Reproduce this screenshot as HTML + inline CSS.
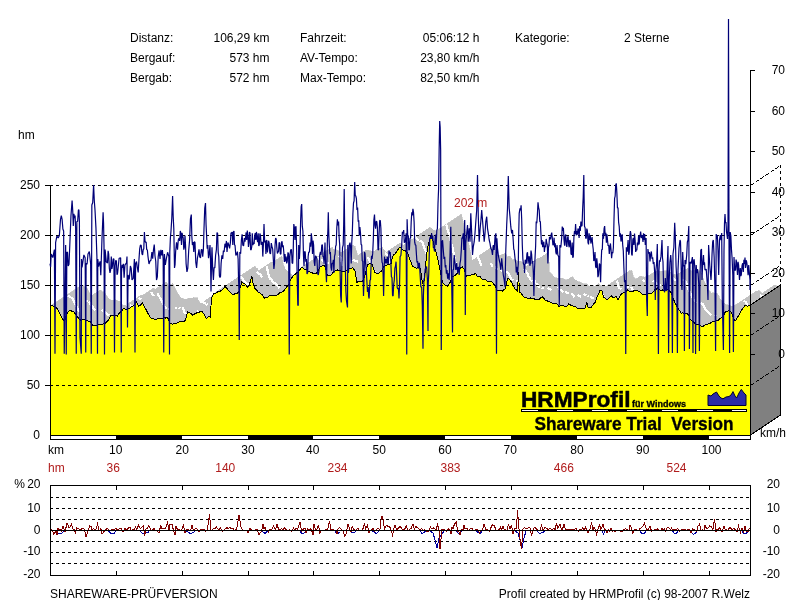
<!DOCTYPE html>
<html><head><meta charset="utf-8"><title>HRMProfil</title>
<style>
html,body{margin:0;padding:0;background:#fff;width:800px;height:600px;overflow:hidden}
svg{position:absolute;left:0;top:0;display:block}
text{font-family:"Liberation Sans", Arial, sans-serif}
.w{stroke:#fff;stroke-width:2.2}
</style></head><body>
<svg width="800" height="600" viewBox="0 0 800 600">

<g shape-rendering="crispEdges">
<g fill="#c0c0c0" stroke="#c0c0c0" stroke-width="0.6"><polygon points="50,306.25 51.25,305.56 81.25,285.56 80,286.25"/><polygon points="51.25,305.56 52.5,305.6 82.5,285.6 81.25,285.56"/><polygon points="52.5,305.6 53.75,306.31 83.75,286.31 82.5,285.6"/><polygon points="53.75,306.31 55,306.9 85,286.9 83.75,286.31"/><polygon points="55,306.9 56.25,307.64 86.25,287.64 85,286.9"/><polygon points="56.25,307.64 57.5,308.75 87.5,288.75 86.25,287.64"/><polygon points="57.5,308.75 58.75,311.4 88.75,291.4 87.5,288.75"/><polygon points="58.75,311.4 60,313.75 90,293.75 88.75,291.4"/><polygon points="60,313.75 61.25,316.43 91.25,296.43 90,293.75"/><polygon points="61.25,316.43 62.5,318.75 92.5,298.75 91.25,296.43"/><polygon points="62.5,318.75 64.4,321.9 94.4,301.9 92.5,298.75"/><polygon points="64.4,321.9 66.25,315 96.25,295 94.4,301.9"/><polygon points="66.25,315 67.5,312.52 97.5,292.52 96.25,295"/><polygon points="67.5,312.52 68.75,311.25 98.75,291.25 97.5,292.52"/><polygon points="68.75,311.25 70,310.24 100,290.24 98.75,291.25"/><polygon points="70,310.24 71.25,310.6 101.25,290.6 100,290.24"/><polygon points="71.25,310.6 72.5,311.72 102.5,291.72 101.25,290.6"/><polygon points="72.5,311.72 73.75,311.9 103.75,291.9 102.5,291.72"/><polygon points="73.75,311.9 75,313.41 105,293.41 103.75,291.9"/><polygon points="75,313.41 76.25,315.6 106.25,295.6 105,293.41"/><polygon points="76.25,315.6 77.5,316.8 107.5,296.8 106.25,295.6"/><polygon points="77.5,316.8 78.75,318.75 108.75,298.75 107.5,296.8"/><polygon points="78.75,318.75 80.62,320.07 110.62,300.07 108.75,298.75"/><polygon points="80.62,320.07 82.5,320 112.5,300 110.62,300.07"/><polygon points="82.5,320 84.38,319.96 114.38,299.96 112.5,300"/><polygon points="84.38,319.96 86.25,320 116.25,300 114.38,299.96"/><polygon points="86.25,320 88.12,321.1 118.12,301.1 116.25,300"/><polygon points="88.12,321.1 90,321.25 120,301.25 118.12,301.1"/><polygon points="90,321.25 91.25,323.09 121.25,303.09 120,301.25"/><polygon points="91.25,323.09 92.5,325 122.5,305 121.25,303.09"/><polygon points="92.5,325 94.38,325.49 124.38,305.49 122.5,305"/><polygon points="94.38,325.49 96.25,325.6 126.25,305.6 124.38,305.49"/><polygon points="96.25,325.6 98.12,324.51 128.12,304.51 126.25,305.6"/><polygon points="98.12,324.51 100,324.4 130,304.4 128.12,304.51"/><polygon points="100,324.4 101.88,324.26 131.88,304.26 130,304.4"/><polygon points="101.88,324.26 103.75,323.75 133.75,303.75 131.88,304.26"/><polygon points="103.75,323.75 105.62,323.02 135.62,303.02 133.75,303.75"/><polygon points="105.62,323.02 107.5,321.25 137.5,301.25 135.62,303.02"/><polygon points="107.5,321.25 109.38,318.16 139.38,298.16 137.5,301.25"/><polygon points="109.38,318.16 111.25,315 141.25,295 139.38,298.16"/><polygon points="111.25,315 113.12,315.34 143.12,295.34 141.25,295"/><polygon points="113.12,315.34 115,315 145,295 143.12,295.34"/><polygon points="115,315 116.25,315.86 146.25,295.86 145,295"/><polygon points="116.25,315.86 117.5,316.25 147.5,296.25 146.25,295.86"/><polygon points="117.5,316.25 118.75,313.76 148.75,293.76 147.5,296.25"/><polygon points="118.75,313.76 120,312.5 150,292.5 148.75,293.76"/><polygon points="120,312.5 121.88,310.66 151.88,290.66 150,292.5"/><polygon points="121.88,310.66 123.75,308.1 153.75,288.1 151.88,290.66"/><polygon points="123.75,308.1 125,308.88 155,288.88 153.75,288.1"/><polygon points="125,308.88 126.25,309.4 156.25,289.4 155,288.88"/><polygon points="126.25,309.4 128.12,308.47 158.12,288.47 156.25,289.4"/><polygon points="128.12,308.47 130,308.1 160,288.1 158.12,288.47"/><polygon points="130,308.1 131.25,306.52 161.25,286.52 160,288.1"/><polygon points="131.25,306.52 132.5,306.25 162.5,286.25 161.25,286.52"/><polygon points="132.5,306.25 134.38,304.59 164.38,284.59 162.5,286.25"/><polygon points="134.38,304.59 136.25,301.9 166.25,281.9 164.38,284.59"/><polygon points="136.25,301.9 137.5,304.04 167.5,284.04 166.25,281.9"/><polygon points="137.5,304.04 138.75,306.25 168.75,286.25 167.5,284.04"/><polygon points="138.75,306.25 140.62,304.98 170.62,284.98 168.75,286.25"/><polygon points="140.62,304.98 142.5,303.1 172.5,283.1 170.62,284.98"/><polygon points="142.5,303.1 144.38,307.08 174.38,287.08 172.5,283.1"/><polygon points="144.38,307.08 146.25,310 176.25,290 174.38,287.08"/><polygon points="146.25,310 148.12,313.8 178.12,293.8 176.25,290"/><polygon points="148.12,313.8 150,317 180,297 178.12,293.8"/><polygon points="150,317 151.67,318.39 181.67,298.39 180,297"/><polygon points="151.67,318.39 153.33,318.45 183.33,298.45 181.67,298.39"/><polygon points="153.33,318.45 155,319.4 185,299.4 183.33,298.45"/><polygon points="155,319.4 156.67,319.39 186.67,299.39 185,299.4"/><polygon points="156.67,319.39 158.33,318.46 188.33,298.46 186.67,299.39"/><polygon points="158.33,318.46 160,318.1 190,298.1 188.33,298.46"/><polygon points="160,318.1 161.88,318.41 191.88,298.41 190,298.1"/><polygon points="161.88,318.41 163.75,317.5 193.75,297.5 191.88,298.41"/><polygon points="163.75,317.5 165.62,318.03 195.62,298.03 193.75,297.5"/><polygon points="165.62,318.03 167.5,317.5 197.5,297.5 195.62,298.03"/><polygon points="167.5,317.5 168.75,320.06 198.75,300.06 197.5,297.5"/><polygon points="168.75,320.06 170,323.75 200,303.75 198.75,300.06"/><polygon points="170,323.75 171.25,323.57 201.25,303.57 200,303.75"/><polygon points="171.25,323.57 172.5,324.4 202.5,304.4 201.25,303.57"/><polygon points="172.5,324.4 174.38,323.35 204.38,303.35 202.5,304.4"/><polygon points="174.38,323.35 176.25,323.1 206.25,303.1 204.38,303.35"/><polygon points="176.25,323.1 178.12,322.83 208.12,302.83 206.25,303.1"/><polygon points="178.12,322.83 180,321.25 210,301.25 208.12,302.83"/><polygon points="180,321.25 181.88,321.49 211.88,301.49 210,301.25"/><polygon points="181.88,321.49 183.75,321.9 213.75,301.9 211.88,301.49"/><polygon points="183.75,321.9 185.6,320 215.6,300 213.75,301.9"/><polygon points="185.6,320 187.5,311.9 217.5,291.9 215.6,300"/><polygon points="187.5,311.9 188.75,312.68 218.75,292.68 217.5,291.9"/><polygon points="188.75,312.68 190,313.1 220,293.1 218.75,292.68"/><polygon points="190,313.1 191.25,313.77 221.25,293.77 220,293.1"/><polygon points="191.25,313.77 192.5,315 222.5,295 221.25,293.77"/><polygon points="192.5,315 194.38,314.06 224.38,294.06 222.5,295"/><polygon points="194.38,314.06 196.25,313.1 226.25,293.1 224.38,294.06"/><polygon points="196.25,313.1 198.12,312.34 228.12,292.34 226.25,293.1"/><polygon points="198.12,312.34 200,311.9 230,291.9 228.12,292.34"/><polygon points="200,311.9 201.9,311.25 231.9,291.25 230,291.9"/><polygon points="201.9,311.25 203.75,313.75 233.75,293.75 231.9,291.25"/><polygon points="203.75,313.75 205,316.04 235,296.04 233.75,293.75"/><polygon points="205,316.04 206.25,318.75 236.25,298.75 235,296.04"/><polygon points="206.25,318.75 207.5,317.62 237.5,297.62 236.25,298.75"/><polygon points="207.5,317.62 208.75,316.25 238.75,296.25 237.5,297.62"/><polygon points="208.75,316.25 210.6,317.5 240.6,297.5 238.75,296.25"/><polygon points="210.6,317.5 211.25,298.75 241.25,278.75 240.6,297.5"/><polygon points="211.25,298.75 212.5,296.37 242.5,276.37 241.25,278.75"/><polygon points="212.5,296.37 213.75,293.75 243.75,273.75 242.5,276.37"/><polygon points="213.75,293.75 215.62,293.39 245.62,273.39 243.75,273.75"/><polygon points="215.62,293.39 217.5,291.9 247.5,271.9 245.62,273.39"/><polygon points="217.5,291.9 219.38,291.5 249.38,271.5 247.5,271.9"/><polygon points="219.38,291.5 221.25,290.6 251.25,270.6 249.38,271.5"/><polygon points="221.25,290.6 223.12,289.03 253.12,269.03 251.25,270.6"/><polygon points="223.12,289.03 225,286.25 255,266.25 253.12,269.03"/><polygon points="225,286.25 226.25,288 256.25,268 255,266.25"/><polygon points="226.25,288 227.5,288.75 257.5,268.75 256.25,268"/><polygon points="227.5,288.75 228.75,291.01 258.75,271.01 257.5,268.75"/><polygon points="228.75,291.01 230,291.9 260,271.9 258.75,271.01"/><polygon points="230,291.9 231.88,293.69 261.88,273.69 260,271.9"/><polygon points="231.88,293.69 233.75,295 263.75,275 261.88,273.69"/><polygon points="233.75,295 235,293.58 265,273.58 263.75,275"/><polygon points="235,293.58 236.25,293.1 266.25,273.1 265,273.58"/><polygon points="236.25,293.1 237.5,293 267.5,273 266.25,273.1"/><polygon points="237.5,293 238.75,291.9 268.75,271.9 267.5,273"/><polygon points="238.75,291.9 240.32,287.55 270.32,267.55 268.75,271.9"/><polygon points="240.32,287.55 241.9,281.9 271.9,261.9 270.32,267.55"/><polygon points="241.9,281.9 243.45,283.39 273.45,263.39 271.9,261.9"/><polygon points="243.45,283.39 245,283.75 275,263.75 273.45,263.39"/><polygon points="245,283.75 246.25,285.72 276.25,265.72 275,263.75"/><polygon points="246.25,285.72 247.5,287.5 277.5,267.5 276.25,265.72"/><polygon points="247.5,287.5 248.75,285.3 278.75,265.3 277.5,267.5"/><polygon points="248.75,285.3 250,282.5 280,262.5 278.75,265.3"/><polygon points="250,282.5 251.9,276.25 281.9,256.25 280,262.5"/><polygon points="251.9,276.25 253.1,283.75 283.1,263.75 281.9,256.25"/><polygon points="253.1,283.75 255,288.75 285,268.75 283.1,263.75"/><polygon points="255,288.75 256.25,289.6 286.25,269.6 285,268.75"/><polygon points="256.25,289.6 257.5,291.25 287.5,271.25 286.25,269.6"/><polygon points="257.5,291.25 258.75,292.64 288.75,272.64 287.5,271.25"/><polygon points="258.75,292.64 260,293.1 290,273.1 288.75,272.64"/><polygon points="260,293.1 261.25,294.15 291.25,274.15 290,273.1"/><polygon points="261.25,294.15 262.5,295 292.5,275 291.25,274.15"/><polygon points="262.5,295 264.4,298.1 294.4,278.1 292.5,275"/><polygon points="264.4,298.1 265.95,297.5 295.95,277.5 294.4,278.1"/><polygon points="265.95,297.5 267.5,297.5 297.5,277.5 295.95,277.5"/><polygon points="267.5,297.5 269.38,295.94 299.38,275.94 297.5,277.5"/><polygon points="269.38,295.94 271.25,295.6 301.25,275.6 299.38,275.94"/><polygon points="271.25,295.6 273.12,295.8 303.12,275.8 301.25,275.6"/><polygon points="273.12,295.8 275,295 305,275 303.12,275.8"/><polygon points="275,295 276.88,295.06 306.88,275.06 305,275"/><polygon points="276.88,295.06 278.75,293.75 308.75,273.75 306.88,275.06"/><polygon points="278.75,293.75 280.62,292.25 310.62,272.25 308.75,273.75"/><polygon points="280.62,292.25 282.5,291.9 312.5,271.9 310.62,272.25"/><polygon points="282.5,291.9 284.38,290.12 314.38,270.12 312.5,271.9"/><polygon points="284.38,290.12 286.25,287.5 316.25,267.5 314.38,270.12"/><polygon points="286.25,287.5 287.5,286.12 317.5,266.12 316.25,267.5"/><polygon points="287.5,286.12 288.75,285 318.75,265 317.5,266.12"/><polygon points="288.75,285 290,281.39 320,261.39 318.75,265"/><polygon points="290,281.39 291.25,278.75 321.25,258.75 320,261.39"/><polygon points="291.25,278.75 292.5,276.59 322.5,256.59 321.25,258.75"/><polygon points="292.5,276.59 293.75,275 323.75,255 322.5,256.59"/><polygon points="293.75,275 295,274.43 325,254.43 323.75,255"/><polygon points="295,274.43 296.25,273.1 326.25,253.1 325,254.43"/><polygon points="296.25,273.1 298.12,271.77 328.12,251.77 326.25,253.1"/><polygon points="298.12,271.77 300,269.4 330,249.4 328.12,251.77"/><polygon points="300,269.4 301.25,267.81 331.25,247.81 330,249.4"/><polygon points="301.25,267.81 302.5,267.5 332.5,247.5 331.25,247.81"/><polygon points="302.5,267.5 303.75,268.91 333.75,248.91 332.5,247.5"/><polygon points="303.75,268.91 305,270 335,250 333.75,248.91"/><polygon points="305,270 306.25,269.66 336.25,249.66 335,250"/><polygon points="306.25,269.66 307.5,270.6 337.5,250.6 336.25,249.66"/><polygon points="307.5,270.6 308.75,271.56 338.75,251.56 337.5,250.6"/><polygon points="308.75,271.56 310,271.9 340,251.9 338.75,251.56"/><polygon points="310,271.9 311.25,272.26 341.25,252.26 340,251.9"/><polygon points="311.25,272.26 312.5,273.1 342.5,253.1 341.25,252.26"/><polygon points="312.5,273.1 313.75,273.96 343.75,253.96 342.5,253.1"/><polygon points="313.75,273.96 315,273.75 345,253.75 343.75,253.96"/><polygon points="315,273.75 316.25,273.5 346.25,253.5 345,253.75"/><polygon points="316.25,273.5 317.5,271.9 347.5,251.9 346.25,253.5"/><polygon points="317.5,271.9 318.75,269.41 348.75,249.41 347.5,251.9"/><polygon points="318.75,269.41 320,266.9 350,246.9 348.75,249.41"/><polygon points="320,266.9 321.25,266.95 351.25,246.95 350,246.9"/><polygon points="321.25,266.95 322.5,265.6 352.5,245.6 351.25,246.95"/><polygon points="322.5,265.6 323.75,265.66 353.75,245.66 352.5,245.6"/><polygon points="323.75,265.66 325,266.25 355,246.25 353.75,245.66"/><polygon points="325,266.25 326.25,270.33 356.25,250.33 355,246.25"/><polygon points="326.25,270.33 327.5,275.6 357.5,255.6 356.25,250.33"/><polygon points="327.5,275.6 329.38,275.44 359.38,255.44 357.5,255.6"/><polygon points="329.38,275.44 331.25,275 361.25,255 359.38,255.44"/><polygon points="331.25,275 332.5,272.79 362.5,252.79 361.25,255"/><polygon points="332.5,272.79 333.75,271.9 363.75,251.9 362.5,252.79"/><polygon points="333.75,271.9 335.62,270.53 365.62,250.53 363.75,251.9"/><polygon points="335.62,270.53 337.5,270 367.5,250 365.62,250.53"/><polygon points="337.5,270 339.38,270.5 369.38,250.5 367.5,250"/><polygon points="339.38,270.5 341.25,271.25 371.25,251.25 369.38,250.5"/><polygon points="341.25,271.25 343.12,271.73 373.12,251.73 371.25,251.25"/><polygon points="343.12,271.73 345,271.9 375,251.9 373.12,251.73"/><polygon points="345,271.9 346.67,270.12 376.67,250.12 375,251.9"/><polygon points="346.67,270.12 348.33,268.66 378.33,248.66 376.67,250.12"/><polygon points="348.33,268.66 350,268 380,248 378.33,248.66"/><polygon points="350,268 351.25,268.26 381.25,248.26 380,248"/><polygon points="351.25,268.26 352.5,267.5 382.5,247.5 381.25,248.26"/><polygon points="352.5,267.5 353.75,269.11 383.75,249.11 382.5,247.5"/><polygon points="353.75,269.11 355,271.25 385,251.25 383.75,249.11"/><polygon points="355,271.25 356.9,282.5 386.9,262.5 385,251.25"/><polygon points="356.9,282.5 358.75,281.25 388.75,261.25 386.9,262.5"/><polygon points="358.75,281.25 360.62,281.89 390.62,261.89 388.75,261.25"/><polygon points="360.62,281.89 362.5,281.25 392.5,261.25 390.62,261.89"/><polygon points="362.5,281.25 363.75,278.68 393.75,258.68 392.5,261.25"/><polygon points="363.75,278.68 365,275 395,255 393.75,258.68"/><polygon points="365,275 366.25,269.83 396.25,249.83 395,255"/><polygon points="366.25,269.83 367.5,265 397.5,245 396.25,249.83"/><polygon points="367.5,265 368.75,263.99 398.75,243.99 397.5,245"/><polygon points="368.75,263.99 370,263.1 400,243.1 398.75,243.99"/><polygon points="370,263.1 371.25,264.08 401.25,244.08 400,243.1"/><polygon points="371.25,264.08 372.5,265 402.5,245 401.25,244.08"/><polygon points="372.5,265 373.75,268.95 403.75,248.95 402.5,245"/><polygon points="373.75,268.95 375,272.5 405,252.5 403.75,248.95"/><polygon points="375,272.5 376.25,273.26 406.25,253.26 405,252.5"/><polygon points="376.25,273.26 377.5,273.75 407.5,253.75 406.25,253.26"/><polygon points="377.5,273.75 379.38,272.58 409.38,252.58 407.5,253.75"/><polygon points="379.38,272.58 381.25,271.25 411.25,251.25 409.38,252.58"/><polygon points="381.25,271.25 382.5,268.92 412.5,248.92 411.25,251.25"/><polygon points="382.5,268.92 383.75,266.25 413.75,246.25 412.5,248.92"/><polygon points="383.75,266.25 385.62,265.94 415.62,245.94 413.75,246.25"/><polygon points="385.62,265.94 387.5,264.4 417.5,244.4 415.62,245.94"/><polygon points="387.5,264.4 389.38,264.08 419.38,244.08 417.5,244.4"/><polygon points="389.38,264.08 391.25,263.75 421.25,243.75 419.38,244.08"/><polygon points="391.25,263.75 392.5,256.25 422.5,236.25 421.25,243.75"/><polygon points="392.5,256.25 393.75,254.9 423.75,234.9 422.5,236.25"/><polygon points="393.75,254.9 395,253.75 425,233.75 423.75,234.9"/><polygon points="395,253.75 396.25,252.18 426.25,232.18 425,233.75"/><polygon points="396.25,252.18 397.5,250 427.5,230 426.25,232.18"/><polygon points="397.5,250 398.75,248.38 428.75,228.38 427.5,230"/><polygon points="398.75,248.38 400,247.5 430,227.5 428.75,228.38"/><polygon points="400,247.5 401.25,248.17 431.25,228.17 430,227.5"/><polygon points="401.25,248.17 402.5,249.4 432.5,229.4 431.25,228.17"/><polygon points="402.5,249.4 403.75,250.67 433.75,230.67 432.5,229.4"/><polygon points="403.75,250.67 405,250.6 435,230.6 433.75,230.67"/><polygon points="405,250.6 406.25,251.58 436.25,231.58 435,230.6"/><polygon points="406.25,251.58 407.5,252.5 437.5,232.5 436.25,231.58"/><polygon points="407.5,252.5 408.75,256.32 438.75,236.32 437.5,232.5"/><polygon points="408.75,256.32 410,260 440,240 438.75,236.32"/><polygon points="410,260 411.25,262.44 441.25,242.44 440,240"/><polygon points="411.25,262.44 412.5,266.25 442.5,246.25 441.25,242.44"/><polygon points="412.5,266.25 414.38,267.06 444.38,247.06 442.5,246.25"/><polygon points="414.38,267.06 416.25,268.1 446.25,248.1 444.38,247.06"/><polygon points="416.25,268.1 418.12,267.91 448.12,247.91 446.25,248.1"/><polygon points="418.12,267.91 420,267.5 450,247.5 448.12,247.91"/><polygon points="420,267.5 421.25,274.58 451.25,254.58 450,247.5"/><polygon points="421.25,274.58 422.5,283 452.5,263 451.25,254.58"/><polygon points="422.5,283 424.5,280 454.5,260 452.5,263"/><polygon points="424.5,280 426.25,257.5 456.25,237.5 454.5,260"/><polygon points="426.25,257.5 428.1,245 458.1,225 456.25,237.5"/><polygon points="428.1,245 430,238.75 460,218.75 458.1,225"/><polygon points="430,238.75 431.25,234.4 461.25,214.4 460,218.75"/><polygon points="431.25,234.4 433.1,241.25 463.1,221.25 461.25,214.4"/><polygon points="433.1,241.25 435,248.75 465,228.75 463.1,221.25"/><polygon points="435,248.75 436.25,253.29 466.25,233.29 465,228.75"/><polygon points="436.25,253.29 437.5,257.5 467.5,237.5 466.25,233.29"/><polygon points="437.5,257.5 438.75,263.94 468.75,243.94 467.5,237.5"/><polygon points="438.75,263.94 440,270 470,250 468.75,243.94"/><polygon points="440,270 441.25,275.63 471.25,255.63 470,250"/><polygon points="441.25,275.63 442.5,282.5 472.5,262.5 471.25,255.63"/><polygon points="442.5,282.5 443.75,283.93 473.75,263.93 472.5,262.5"/><polygon points="443.75,283.93 445,285 475,265 473.75,263.93"/><polygon points="445,285 446.25,285.58 476.25,265.58 475,265"/><polygon points="446.25,285.58 447.5,286.25 477.5,266.25 476.25,265.58"/><polygon points="447.5,286.25 448.75,284.63 478.75,264.63 477.5,266.25"/><polygon points="448.75,284.63 450,282.5 480,262.5 478.75,264.63"/><polygon points="450,282.5 451.25,279.17 481.25,259.17 480,262.5"/><polygon points="451.25,279.17 452.5,276.25 482.5,256.25 481.25,259.17"/><polygon points="452.5,276.25 453.75,276.21 483.75,256.21 482.5,256.25"/><polygon points="453.75,276.21 455,275.6 485,255.6 483.75,256.21"/><polygon points="455,275.6 456.5,274.13 486.5,254.13 485,255.6"/><polygon points="456.5,274.13 458,272 488,252 486.5,254.13"/><polygon points="458,272 459.25,269.33 489.25,249.33 488,252"/><polygon points="459.25,269.33 460.5,268 490.5,248 489.25,249.33"/><polygon points="460.5,268 462.5,266.9 492.5,246.9 490.5,248"/><polygon points="462.5,266.9 464.5,270 494.5,250 492.5,246.9"/><polygon points="464.5,270 466.25,276.25 496.25,256.25 494.5,250"/><polygon points="466.25,276.25 467.5,275.31 497.5,255.31 496.25,256.25"/><polygon points="467.5,275.31 468.75,275.6 498.75,255.6 497.5,255.31"/><polygon points="468.75,275.6 470.62,275.25 500.62,255.25 498.75,255.6"/><polygon points="470.62,275.25 472.5,274.4 502.5,254.4 500.62,255.25"/><polygon points="472.5,274.4 474.05,274.4 504.05,254.4 502.5,254.4"/><polygon points="474.05,274.4 475.6,273.1 505.6,253.1 504.05,254.4"/><polygon points="475.6,273.1 477.5,276.9 507.5,256.9 505.6,253.1"/><polygon points="477.5,276.9 478.75,276.23 508.75,256.23 507.5,256.9"/><polygon points="478.75,276.23 480,276.25 510,256.25 508.75,256.23"/><polygon points="480,276.25 481.25,278.06 511.25,258.06 510,256.25"/><polygon points="481.25,278.06 482.5,280 512.5,260 511.25,258.06"/><polygon points="482.5,280 483.75,279.83 513.75,259.83 512.5,260"/><polygon points="483.75,279.83 485,279.4 515,259.4 513.75,259.83"/><polygon points="485,279.4 486.25,280.07 516.25,260.07 515,259.4"/><polygon points="486.25,280.07 487.5,281.25 517.5,261.25 516.25,260.07"/><polygon points="487.5,281.25 488.75,281.06 518.75,261.06 517.5,261.25"/><polygon points="488.75,281.06 490,281.25 520,261.25 518.75,261.06"/><polygon points="490,281.25 491.25,281.61 521.25,261.61 520,261.25"/><polygon points="491.25,281.61 492.5,282.5 522.5,262.5 521.25,261.61"/><polygon points="492.5,282.5 493.75,284.19 523.75,264.19 522.5,262.5"/><polygon points="493.75,284.19 495,286.25 525,266.25 523.75,264.19"/><polygon points="495,286.25 496.9,290 526.9,270 525,266.25"/><polygon points="496.9,290 498.45,290.43 528.45,270.43 526.9,270"/><polygon points="498.45,290.43 500,290.6 530,270.6 528.45,270.43"/><polygon points="500,290.6 501.25,290.65 531.25,270.65 530,270.6"/><polygon points="501.25,290.65 502.5,291.25 532.5,271.25 531.25,270.65"/><polygon points="502.5,291.25 503.75,289.83 533.75,269.83 532.5,271.25"/><polygon points="503.75,289.83 505,288.75 535,268.75 533.75,269.83"/><polygon points="505,288.75 506.25,284.13 536.25,264.13 535,268.75"/><polygon points="506.25,284.13 507.5,278.75 537.5,258.75 536.25,264.13"/><polygon points="507.5,278.75 508.75,278.71 538.75,258.71 537.5,258.75"/><polygon points="508.75,278.71 510,280 540,260 538.75,258.71"/><polygon points="510,280 511.25,281.97 541.25,261.97 540,260"/><polygon points="511.25,281.97 512.5,283.75 542.5,263.75 541.25,261.97"/><polygon points="512.5,283.75 513.75,286.58 543.75,266.58 542.5,263.75"/><polygon points="513.75,286.58 515,288.75 545,268.75 543.75,266.58"/><polygon points="515,288.75 516.25,289.73 546.25,269.73 545,268.75"/><polygon points="516.25,289.73 517.5,291.25 547.5,271.25 546.25,269.73"/><polygon points="517.5,291.25 518.5,272 548.5,252 547.5,271.25"/><polygon points="518.5,272 519.5,292 549.5,272 548.5,252"/><polygon points="519.5,292 521,293.11 551,273.11 549.5,272"/><polygon points="521,293.11 522.5,295 552.5,275 551,273.11"/><polygon points="522.5,295 523.75,296.68 553.75,276.68 552.5,275"/><polygon points="523.75,296.68 525,297.5 555,277.5 553.75,276.68"/><polygon points="525,297.5 526.88,297.76 556.88,277.76 555,277.5"/><polygon points="526.88,297.76 528.75,298.75 558.75,278.75 556.88,277.76"/><polygon points="528.75,298.75 530.62,297.99 560.62,277.99 558.75,278.75"/><polygon points="530.62,297.99 532.5,298.1 562.5,278.1 560.62,277.99"/><polygon points="532.5,298.1 534.38,298.96 564.38,278.96 562.5,278.1"/><polygon points="534.38,298.96 536.25,300 566.25,280 564.38,278.96"/><polygon points="536.25,300 538.12,299.65 568.12,279.65 566.25,280"/><polygon points="538.12,299.65 540,298.75 570,278.75 568.12,279.65"/><polygon points="540,298.75 541.25,297.27 571.25,277.27 570,278.75"/><polygon points="541.25,297.27 542.5,296.9 572.5,276.9 571.25,277.27"/><polygon points="542.5,296.9 543.75,298.2 573.75,278.2 572.5,276.9"/><polygon points="543.75,298.2 545,300 575,280 573.75,278.2"/><polygon points="545,300 546.67,300.43 576.67,280.43 575,280"/><polygon points="546.67,300.43 548.33,301.8 578.33,281.8 576.67,280.43"/><polygon points="548.33,301.8 550,302 580,282 578.33,281.8"/><polygon points="550,302 551.25,302.46 581.25,282.46 580,282"/><polygon points="551.25,302.46 552.5,303.1 582.5,283.1 581.25,282.46"/><polygon points="552.5,303.1 553.75,303.92 583.75,283.92 582.5,283.1"/><polygon points="553.75,303.92 555,303.75 585,283.75 583.75,283.92"/><polygon points="555,303.75 556.25,303.61 586.25,283.61 585,283.75"/><polygon points="556.25,303.61 557.5,304.4 587.5,284.4 586.25,283.61"/><polygon points="557.5,304.4 559.4,306.9 589.4,286.9 587.5,284.4"/><polygon points="559.4,306.9 561.25,305 591.25,285 589.4,286.9"/><polygon points="561.25,305 562.5,305.07 592.5,285.07 591.25,285"/><polygon points="562.5,305.07 563.75,305.6 593.75,285.6 592.5,285.07"/><polygon points="563.75,305.6 565,306.46 595,286.46 593.75,285.6"/><polygon points="565,306.46 566.25,306.9 596.25,286.9 595,286.46"/><polygon points="566.25,306.9 567.5,305.86 597.5,285.86 596.25,286.9"/><polygon points="567.5,305.86 568.75,303.75 598.75,283.75 597.5,285.86"/><polygon points="568.75,303.75 570,304.61 600,284.61 598.75,283.75"/><polygon points="570,304.61 571.25,305.6 601.25,285.6 600,284.61"/><polygon points="571.25,305.6 572.5,305.54 602.5,285.54 601.25,285.6"/><polygon points="572.5,305.54 573.75,306.25 603.75,286.25 602.5,285.54"/><polygon points="573.75,306.25 575,306.34 605,286.34 603.75,286.25"/><polygon points="575,306.34 576.25,307.5 606.25,287.5 605,286.34"/><polygon points="576.25,307.5 577.5,308.17 607.5,288.17 606.25,287.5"/><polygon points="577.5,308.17 578.75,308.75 608.75,288.75 607.5,288.17"/><polygon points="578.75,308.75 580.62,308.32 610.62,288.32 608.75,288.75"/><polygon points="580.62,308.32 582.5,308.75 612.5,288.75 610.62,288.32"/><polygon points="582.5,308.75 583.75,308.85 613.75,288.85 612.5,288.75"/><polygon points="583.75,308.85 585,308.1 615,288.1 613.75,288.85"/><polygon points="585,308.1 586.9,302.5 616.9,282.5 615,288.1"/><polygon points="586.9,302.5 588.1,306.9 618.1,286.9 616.9,282.5"/><polygon points="588.1,306.9 590,308.1 620,288.1 618.1,286.9"/><polygon points="590,308.1 591.25,307.32 621.25,287.32 620,288.1"/><polygon points="591.25,307.32 592.5,305.6 622.5,285.6 621.25,287.32"/><polygon points="592.5,305.6 593.75,303.61 623.75,283.61 622.5,285.6"/><polygon points="593.75,303.61 595,302.5 625,282.5 623.75,283.61"/><polygon points="595,302.5 596.9,297.5 626.9,277.5 625,282.5"/><polygon points="596.9,297.5 598.75,293.75 628.75,273.75 626.9,277.5"/><polygon points="598.75,293.75 600,290.6 630,270.6 628.75,273.75"/><polygon points="600,290.6 601.9,290.6 631.9,270.6 630,270.6"/><polygon points="601.9,290.6 603.75,297.5 633.75,277.5 631.9,270.6"/><polygon points="603.75,297.5 605,298.14 635,278.14 633.75,277.5"/><polygon points="605,298.14 606.25,299.4 636.25,279.4 635,278.14"/><polygon points="606.25,299.4 607.5,299.18 637.5,279.18 636.25,279.4"/><polygon points="607.5,299.18 608.75,298.1 638.75,278.1 637.5,279.18"/><polygon points="608.75,298.1 610,297.05 640,277.05 638.75,278.1"/><polygon points="610,297.05 611.25,295.6 641.25,275.6 640,277.05"/><polygon points="611.25,295.6 612.5,296.98 642.5,276.98 641.25,275.6"/><polygon points="612.5,296.98 613.75,297.5 643.75,277.5 642.5,276.98"/><polygon points="613.75,297.5 615,296.98 645,276.98 643.75,277.5"/><polygon points="615,296.98 616.25,296.9 646.25,276.9 645,276.98"/><polygon points="616.25,296.9 618.1,300 648.1,280 646.25,276.9"/><polygon points="618.1,300 620,296.25 650,276.25 648.1,280"/><polygon points="620,296.25 621.25,294.16 651.25,274.16 650,276.25"/><polygon points="621.25,294.16 622.5,293.1 652.5,273.1 651.25,274.16"/><polygon points="622.5,293.1 623.75,292.51 653.75,272.51 652.5,273.1"/><polygon points="623.75,292.51 625,292.5 655,272.5 653.75,272.51"/><polygon points="625,292.5 626.25,291.66 656.25,271.66 655,272.5"/><polygon points="626.25,291.66 627.5,290 657.5,270 656.25,271.66"/><polygon points="627.5,290 628.75,290.63 658.75,270.63 657.5,270"/><polygon points="628.75,290.63 630,291.9 660,271.9 658.75,270.63"/><polygon points="630,291.9 631.25,291.36 661.25,271.36 660,271.9"/><polygon points="631.25,291.36 632.5,291.25 662.5,271.25 661.25,271.36"/><polygon points="632.5,291.25 634.38,290.81 664.38,270.81 662.5,271.25"/><polygon points="634.38,290.81 636.25,290.6 666.25,270.6 664.38,270.81"/><polygon points="636.25,290.6 637.5,290.81 667.5,270.81 666.25,270.6"/><polygon points="637.5,290.81 638.75,291.25 668.75,271.25 667.5,270.81"/><polygon points="638.75,291.25 640,292.05 670,272.05 668.75,271.25"/><polygon points="640,292.05 641.25,293.1 671.25,273.1 670,272.05"/><polygon points="641.25,293.1 642.5,294.64 672.5,274.64 671.25,273.1"/><polygon points="642.5,294.64 643.75,295 673.75,275 672.5,274.64"/><polygon points="643.75,295 645,294.52 675,274.52 673.75,275"/><polygon points="645,294.52 646.25,295 676.25,275 675,274.52"/><polygon points="646.25,295 647.5,293.68 677.5,273.68 676.25,275"/><polygon points="647.5,293.68 648.75,293.75 678.75,273.75 677.5,273.68"/><polygon points="648.75,293.75 650,293.75 680,273.75 678.75,273.75"/><polygon points="650,293.75 651.25,293.75 681.25,273.75 680,273.75"/><polygon points="651.25,293.75 652.5,292.5 682.5,272.5 681.25,273.75"/><polygon points="652.5,292.5 653.75,291.48 683.75,271.48 682.5,272.5"/><polygon points="653.75,291.48 655,289.4 685,269.4 683.75,271.48"/><polygon points="655,289.4 656.25,289.43 686.25,269.43 685,269.4"/><polygon points="656.25,289.43 657.5,288.1 687.5,268.1 686.25,269.43"/><polygon points="657.5,288.1 658.75,288.96 688.75,268.96 687.5,268.1"/><polygon points="658.75,288.96 660,290 690,270 688.75,268.96"/><polygon points="660,290 661.25,290.63 691.25,270.63 690,270"/><polygon points="661.25,290.63 662.5,290 692.5,270 691.25,270.63"/><polygon points="662.5,290 664.38,290.3 694.38,270.3 692.5,270"/><polygon points="664.38,290.3 666.25,289.4 696.25,269.4 694.38,270.3"/><polygon points="666.25,289.4 667.5,289.31 697.5,269.31 696.25,269.4"/><polygon points="667.5,289.31 668.75,290 698.75,270 697.5,269.31"/><polygon points="668.75,290 670,291.59 700,271.59 698.75,270"/><polygon points="670,291.59 671.25,292.5 701.25,272.5 700,271.59"/><polygon points="671.25,292.5 672.5,296.72 702.5,276.72 701.25,272.5"/><polygon points="672.5,296.72 673.75,300 703.75,280 702.5,276.72"/><polygon points="673.75,300 675,302.73 705,282.73 703.75,280"/><polygon points="675,302.73 676.25,305 706.25,285 705,282.73"/><polygon points="676.25,305 677.5,307.53 707.5,287.53 706.25,285"/><polygon points="677.5,307.53 678.75,310 708.75,290 707.5,287.53"/><polygon points="678.75,310 680,311.25 710,291.25 708.75,290"/><polygon points="680,311.25 681.25,313.1 711.25,293.1 710,291.25"/><polygon points="681.25,313.1 682.5,312.88 712.5,292.88 711.25,293.1"/><polygon points="682.5,312.88 683.75,313.1 713.75,293.1 712.5,292.88"/><polygon points="683.75,313.1 685.62,313.04 715.62,293.04 713.75,293.1"/><polygon points="685.62,313.04 687.5,313.75 717.5,293.75 715.62,293.04"/><polygon points="687.5,313.75 688.75,315.65 718.75,295.65 717.5,293.75"/><polygon points="688.75,315.65 690,318.75 720,298.75 718.75,295.65"/><polygon points="690,318.75 691.25,320.12 721.25,300.12 720,298.75"/><polygon points="691.25,320.12 692.5,321.25 722.5,301.25 721.25,300.12"/><polygon points="692.5,321.25 693.75,322.2 723.75,302.2 722.5,301.25"/><polygon points="693.75,322.2 695,323.75 725,303.75 723.75,302.2"/><polygon points="695,323.75 696.25,324.81 726.25,304.81 725,303.75"/><polygon points="696.25,324.81 697.5,325 727.5,305 726.25,304.81"/><polygon points="697.5,325 699.38,324.99 729.38,304.99 727.5,305"/><polygon points="699.38,324.99 701.25,326.25 731.25,306.25 729.38,304.99"/><polygon points="701.25,326.25 703.12,326.19 733.12,306.19 731.25,306.25"/><polygon points="703.12,326.19 705,325 735,305 733.12,306.19"/><polygon points="705,325 706.88,324.65 736.88,304.65 735,305"/><polygon points="706.88,324.65 708.75,323.75 738.75,303.75 736.88,304.65"/><polygon points="708.75,323.75 710.62,323.09 740.62,303.09 738.75,303.75"/><polygon points="710.62,323.09 712.5,321.25 742.5,301.25 740.62,303.09"/><polygon points="712.5,321.25 714.38,321.48 744.38,301.48 742.5,301.25"/><polygon points="714.38,321.48 716.25,320.6 746.25,300.6 744.38,301.48"/><polygon points="716.25,320.6 718.12,320.23 748.12,300.23 746.25,300.6"/><polygon points="718.12,320.23 720,318.75 750,298.75 748.12,300.23"/><polygon points="720,318.75 721.88,316.98 751.88,296.98 750,298.75"/><polygon points="721.88,316.98 723.75,315 753.75,295 751.88,296.98"/><polygon points="723.75,315 725,312.44 755,292.44 753.75,295"/><polygon points="725,312.44 726.25,311.25 756.25,291.25 755,292.44"/><polygon points="726.25,311.25 727.5,311.27 757.5,291.27 756.25,291.25"/><polygon points="727.5,311.27 728.75,310.6 758.75,290.6 757.5,291.27"/><polygon points="728.75,310.6 730,311.09 760,291.09 758.75,290.6"/><polygon points="730,311.09 731.25,312.5 761.25,292.5 760,291.09"/><polygon points="731.25,312.5 732.5,315.34 762.5,295.34 761.25,292.5"/><polygon points="732.5,315.34 733.75,318.75 763.75,298.75 762.5,295.34"/><polygon points="733.75,318.75 735,321.25 765,301.25 763.75,298.75"/><polygon points="735,321.25 736.25,319.6 766.25,299.6 765,301.25"/><polygon points="736.25,319.6 737.5,317.5 767.5,297.5 766.25,299.6"/><polygon points="737.5,317.5 738.75,315.33 768.75,295.33 767.5,297.5"/><polygon points="738.75,315.33 740,313.1 770,293.1 768.75,295.33"/><polygon points="740,313.1 741.25,310.8 771.25,290.8 770,293.1"/><polygon points="741.25,310.8 742.5,308.75 772.5,288.75 771.25,290.8"/><polygon points="742.5,308.75 743.75,307.49 773.75,287.49 772.5,288.75"/><polygon points="743.75,307.49 745,305 775,285 773.75,287.49"/><polygon points="745,305 746.25,305.78 776.25,285.78 775,285"/><polygon points="746.25,305.78 747.5,306.25 777.5,286.25 776.25,285.78"/><polygon points="747.5,306.25 748.75,305.4 778.75,285.4 777.5,286.25"/><polygon points="748.75,305.4 750,305 780,285 778.75,285.4"/></g>
<path d="M67.5,295.6L68.75,296.31M68.75,296.31L70,296.9M70,296.9L71.25,297.64M71.25,297.64L72.5,298.75M72.5,298.75L73.75,301.4M73.75,301.4L75,303.75M75,303.75L76.25,306.43M76.25,306.43L77.5,308.75M77.5,308.75L79.4,311.9M85,300.24L86.25,300.6M86.25,300.6L87.5,301.72M88.75,301.9L90,303.41M90,303.41L91.25,305.6M91.25,305.6L92.5,306.8M92.5,306.8L93.75,308.75M93.75,308.75L95.62,310.07M101.25,310L103.12,311.1M105,311.25L106.25,313.09M106.25,313.09L107.5,315M107.5,315L109.38,315.49M126.25,305L128.12,305.34M130,305L131.25,305.86M131.25,305.86L132.5,306.25M138.75,298.1L140,298.88M140,298.88L141.25,299.4M151.25,291.9L152.5,294.04M152.5,294.04L153.75,296.25M157.5,293.1L159.38,297.08M159.38,297.08L161.25,300M161.25,300L163.12,303.8M163.12,303.8L165,307M165,307L166.67,308.39M168.33,308.45L170,309.4M175,308.1L176.88,308.41M178.75,307.5L180.62,308.03M182.5,307.5L183.75,310.06M183.75,310.06L185,313.75M186.25,313.57L187.5,314.4M196.88,311.49L198.75,311.9M202.5,301.9L203.75,302.68M203.75,302.68L205,303.1M205,303.1L206.25,303.77M206.25,303.77L207.5,305M216.9,301.25L218.75,303.75M218.75,303.75L220,306.04M220,306.04L221.25,308.75M223.75,306.25L225.6,307.5M240,276.25L241.25,278M241.25,278L242.5,278.75M242.5,278.75L243.75,281.01M243.75,281.01L245,281.9M245,281.9L246.88,283.69M246.88,283.69L248.75,285M256.9,271.9L258.45,273.39M258.45,273.39L260,273.75M260,273.75L261.25,275.72M261.25,275.72L262.5,277.5M266.9,266.25L268.1,273.75M268.1,273.75L270,278.75M270,278.75L271.25,279.6M271.25,279.6L272.5,281.25M272.5,281.25L273.75,282.64M273.75,282.64L275,283.1M275,283.1L276.25,284.15M276.25,284.15L277.5,285M277.5,285L279.4,288.1M317.5,257.5L318.75,258.91M318.75,258.91L320,260M321.25,259.66L322.5,260.6M322.5,260.6L323.75,261.56M323.75,261.56L325,261.9M325,261.9L326.25,262.26M326.25,262.26L327.5,263.1M327.5,263.1L328.75,263.96M338.75,255.66L340,256.25M340,256.25L341.25,260.33M341.25,260.33L342.5,265.6M352.5,260L354.38,260.5M354.38,260.5L356.25,261.25M356.25,261.25L358.12,261.73M367.5,257.5L368.75,259.11M368.75,259.11L370,261.25M370,261.25L371.9,272.5M373.75,271.25L375.62,271.89M385,253.1L386.25,254.08M386.25,254.08L387.5,255M387.5,255L388.75,258.95M388.75,258.95L390,262.5M390,262.5L391.25,263.26M391.25,263.26L392.5,263.75M415,237.5L416.25,238.17M416.25,238.17L417.5,239.4M417.5,239.4L418.75,240.67M420,240.6L421.25,241.58M421.25,241.58L422.5,242.5M422.5,242.5L423.75,246.32M423.75,246.32L425,250M425,250L426.25,252.44M426.25,252.44L427.5,256.25M427.5,256.25L429.38,257.06M429.38,257.06L431.25,258.1M435,257.5L436.25,264.58M436.25,264.58L437.5,273M446.25,224.4L448.1,231.25M448.1,231.25L450,238.75M450,238.75L451.25,243.29M451.25,243.29L452.5,247.5M452.5,247.5L453.75,253.94M453.75,253.94L455,260M455,260L456.25,265.63M456.25,265.63L457.5,272.5M457.5,272.5L458.75,273.93M458.75,273.93L460,275M460,275L461.25,275.58M461.25,275.58L462.5,276.25M477.5,256.9L479.5,260M479.5,260L481.25,266.25M490.6,263.1L492.5,266.9M495,266.25L496.25,268.06M496.25,268.06L497.5,270M500,269.4L501.25,270.07M501.25,270.07L502.5,271.25M505,271.25L506.25,271.61M506.25,271.61L507.5,272.5M507.5,272.5L508.75,274.19M508.75,274.19L510,276.25M510,276.25L511.9,280M511.9,280L513.45,280.43M516.25,280.65L517.5,281.25M523.75,268.71L525,270M525,270L526.25,271.97M526.25,271.97L527.5,273.75M527.5,273.75L528.75,276.58M528.75,276.58L530,278.75M530,278.75L531.25,279.73M531.25,279.73L532.5,281.25M533.5,262L534.5,282M534.5,282L536,283.11M536,283.11L537.5,285M537.5,285L538.75,286.68M538.75,286.68L540,287.5M541.88,287.76L543.75,288.75M547.5,288.1L549.38,288.96M549.38,288.96L551.25,290M557.5,286.9L558.75,288.2M558.75,288.2L560,290M560,290L561.67,290.43M561.67,290.43L563.33,291.8M565,292L566.25,292.46M566.25,292.46L567.5,293.1M567.5,293.1L568.75,293.92M571.25,293.61L572.5,294.4M572.5,294.4L574.4,296.9M577.5,295.07L578.75,295.6M578.75,295.6L580,296.46M580,296.46L581.25,296.9M583.75,293.75L585,294.61M585,294.61L586.25,295.6M587.5,295.54L588.75,296.25M590,296.34L591.25,297.5M591.25,297.5L592.5,298.17M592.5,298.17L593.75,298.75M595.62,298.32L597.5,298.75M601.9,292.5L603.1,296.9M603.1,296.9L605,298.1M616.9,280.6L618.75,287.5M618.75,287.5L620,288.14M620,288.14L621.25,289.4M626.25,285.6L627.5,286.98M627.5,286.98L628.75,287.5M631.25,286.9L633.1,290M642.5,280L643.75,280.63M643.75,280.63L645,281.9M652.5,280.81L653.75,281.25M653.75,281.25L655,282.05M655,282.05L656.25,283.1M656.25,283.1L657.5,284.64M657.5,284.64L658.75,285M660,284.52L661.25,285M672.5,278.1L673.75,278.96M673.75,278.96L675,280M675,280L676.25,280.63M682.5,279.31L683.75,280M683.75,280L685,281.59M685,281.59L686.25,282.5M686.25,282.5L687.5,286.72M687.5,286.72L688.75,290M688.75,290L690,292.73M690,292.73L691.25,295M691.25,295L692.5,297.53M692.5,297.53L693.75,300M693.75,300L695,301.25M695,301.25L696.25,303.1M700.62,303.04L702.5,303.75M702.5,303.75L703.75,305.65M703.75,305.65L705,308.75M705,308.75L706.25,310.12M706.25,310.12L707.5,311.25M707.5,311.25L708.75,312.2M708.75,312.2L710,313.75M710,313.75L711.25,314.81M714.38,314.99L716.25,316.25M743.75,300.6L745,301.09M745,301.09L746.25,302.5M746.25,302.5L747.5,305.34M747.5,305.34L748.75,308.75M748.75,308.75L750,311.25M760,295L761.25,295.78M761.25,295.78L762.5,296.25" class="w" fill="none"/>
<polygon points="50,435 50,306.25 51.25,305.56 52.5,305.6 53.75,306.31 55,306.9 56.25,307.64 57.5,308.75 58.75,311.4 60,313.75 61.25,316.43 62.5,318.75 64.4,321.9 66.25,315 67.5,312.52 68.75,311.25 70,310.24 71.25,310.6 72.5,311.72 73.75,311.9 75,313.41 76.25,315.6 77.5,316.8 78.75,318.75 80.62,320.07 82.5,320 84.38,319.96 86.25,320 88.12,321.1 90,321.25 91.25,323.09 92.5,325 94.38,325.49 96.25,325.6 98.12,324.51 100,324.4 101.88,324.26 103.75,323.75 105.62,323.02 107.5,321.25 109.38,318.16 111.25,315 113.12,315.34 115,315 116.25,315.86 117.5,316.25 118.75,313.76 120,312.5 121.88,310.66 123.75,308.1 125,308.88 126.25,309.4 128.12,308.47 130,308.1 131.25,306.52 132.5,306.25 134.38,304.59 136.25,301.9 137.5,304.04 138.75,306.25 140.62,304.98 142.5,303.1 144.38,307.08 146.25,310 148.12,313.8 150,317 151.67,318.39 153.33,318.45 155,319.4 156.67,319.39 158.33,318.46 160,318.1 161.88,318.41 163.75,317.5 165.62,318.03 167.5,317.5 168.75,320.06 170,323.75 171.25,323.57 172.5,324.4 174.38,323.35 176.25,323.1 178.12,322.83 180,321.25 181.88,321.49 183.75,321.9 185.6,320 187.5,311.9 188.75,312.68 190,313.1 191.25,313.77 192.5,315 194.38,314.06 196.25,313.1 198.12,312.34 200,311.9 201.9,311.25 203.75,313.75 205,316.04 206.25,318.75 207.5,317.62 208.75,316.25 210.6,317.5 211.25,298.75 212.5,296.37 213.75,293.75 215.62,293.39 217.5,291.9 219.38,291.5 221.25,290.6 223.12,289.03 225,286.25 226.25,288 227.5,288.75 228.75,291.01 230,291.9 231.88,293.69 233.75,295 235,293.58 236.25,293.1 237.5,293 238.75,291.9 240.32,287.55 241.9,281.9 243.45,283.39 245,283.75 246.25,285.72 247.5,287.5 248.75,285.3 250,282.5 251.9,276.25 253.1,283.75 255,288.75 256.25,289.6 257.5,291.25 258.75,292.64 260,293.1 261.25,294.15 262.5,295 264.4,298.1 265.95,297.5 267.5,297.5 269.38,295.94 271.25,295.6 273.12,295.8 275,295 276.88,295.06 278.75,293.75 280.62,292.25 282.5,291.9 284.38,290.12 286.25,287.5 287.5,286.12 288.75,285 290,281.39 291.25,278.75 292.5,276.59 293.75,275 295,274.43 296.25,273.1 298.12,271.77 300,269.4 301.25,267.81 302.5,267.5 303.75,268.91 305,270 306.25,269.66 307.5,270.6 308.75,271.56 310,271.9 311.25,272.26 312.5,273.1 313.75,273.96 315,273.75 316.25,273.5 317.5,271.9 318.75,269.41 320,266.9 321.25,266.95 322.5,265.6 323.75,265.66 325,266.25 326.25,270.33 327.5,275.6 329.38,275.44 331.25,275 332.5,272.79 333.75,271.9 335.62,270.53 337.5,270 339.38,270.5 341.25,271.25 343.12,271.73 345,271.9 346.67,270.12 348.33,268.66 350,268 351.25,268.26 352.5,267.5 353.75,269.11 355,271.25 356.9,282.5 358.75,281.25 360.62,281.89 362.5,281.25 363.75,278.68 365,275 366.25,269.83 367.5,265 368.75,263.99 370,263.1 371.25,264.08 372.5,265 373.75,268.95 375,272.5 376.25,273.26 377.5,273.75 379.38,272.58 381.25,271.25 382.5,268.92 383.75,266.25 385.62,265.94 387.5,264.4 389.38,264.08 391.25,263.75 392.5,256.25 393.75,254.9 395,253.75 396.25,252.18 397.5,250 398.75,248.38 400,247.5 401.25,248.17 402.5,249.4 403.75,250.67 405,250.6 406.25,251.58 407.5,252.5 408.75,256.32 410,260 411.25,262.44 412.5,266.25 414.38,267.06 416.25,268.1 418.12,267.91 420,267.5 421.25,274.58 422.5,283 424.5,280 426.25,257.5 428.1,245 430,238.75 431.25,234.4 433.1,241.25 435,248.75 436.25,253.29 437.5,257.5 438.75,263.94 440,270 441.25,275.63 442.5,282.5 443.75,283.93 445,285 446.25,285.58 447.5,286.25 448.75,284.63 450,282.5 451.25,279.17 452.5,276.25 453.75,276.21 455,275.6 456.5,274.13 458,272 459.25,269.33 460.5,268 462.5,266.9 464.5,270 466.25,276.25 467.5,275.31 468.75,275.6 470.62,275.25 472.5,274.4 474.05,274.4 475.6,273.1 477.5,276.9 478.75,276.23 480,276.25 481.25,278.06 482.5,280 483.75,279.83 485,279.4 486.25,280.07 487.5,281.25 488.75,281.06 490,281.25 491.25,281.61 492.5,282.5 493.75,284.19 495,286.25 496.9,290 498.45,290.43 500,290.6 501.25,290.65 502.5,291.25 503.75,289.83 505,288.75 506.25,284.13 507.5,278.75 508.75,278.71 510,280 511.25,281.97 512.5,283.75 513.75,286.58 515,288.75 516.25,289.73 517.5,291.25 518.5,272 519.5,292 521,293.11 522.5,295 523.75,296.68 525,297.5 526.88,297.76 528.75,298.75 530.62,297.99 532.5,298.1 534.38,298.96 536.25,300 538.12,299.65 540,298.75 541.25,297.27 542.5,296.9 543.75,298.2 545,300 546.67,300.43 548.33,301.8 550,302 551.25,302.46 552.5,303.1 553.75,303.92 555,303.75 556.25,303.61 557.5,304.4 559.4,306.9 561.25,305 562.5,305.07 563.75,305.6 565,306.46 566.25,306.9 567.5,305.86 568.75,303.75 570,304.61 571.25,305.6 572.5,305.54 573.75,306.25 575,306.34 576.25,307.5 577.5,308.17 578.75,308.75 580.62,308.32 582.5,308.75 583.75,308.85 585,308.1 586.9,302.5 588.1,306.9 590,308.1 591.25,307.32 592.5,305.6 593.75,303.61 595,302.5 596.9,297.5 598.75,293.75 600,290.6 601.9,290.6 603.75,297.5 605,298.14 606.25,299.4 607.5,299.18 608.75,298.1 610,297.05 611.25,295.6 612.5,296.98 613.75,297.5 615,296.98 616.25,296.9 618.1,300 620,296.25 621.25,294.16 622.5,293.1 623.75,292.51 625,292.5 626.25,291.66 627.5,290 628.75,290.63 630,291.9 631.25,291.36 632.5,291.25 634.38,290.81 636.25,290.6 637.5,290.81 638.75,291.25 640,292.05 641.25,293.1 642.5,294.64 643.75,295 645,294.52 646.25,295 647.5,293.68 648.75,293.75 650,293.75 651.25,293.75 652.5,292.5 653.75,291.48 655,289.4 656.25,289.43 657.5,288.1 658.75,288.96 660,290 661.25,290.63 662.5,290 664.38,290.3 666.25,289.4 667.5,289.31 668.75,290 670,291.59 671.25,292.5 672.5,296.72 673.75,300 675,302.73 676.25,305 677.5,307.53 678.75,310 680,311.25 681.25,313.1 682.5,312.88 683.75,313.1 685.62,313.04 687.5,313.75 688.75,315.65 690,318.75 691.25,320.12 692.5,321.25 693.75,322.2 695,323.75 696.25,324.81 697.5,325 699.38,324.99 701.25,326.25 703.12,326.19 705,325 706.88,324.65 708.75,323.75 710.62,323.09 712.5,321.25 714.38,321.48 716.25,320.6 718.12,320.23 720,318.75 721.88,316.98 723.75,315 725,312.44 726.25,311.25 727.5,311.27 728.75,310.6 730,311.09 731.25,312.5 732.5,315.34 733.75,318.75 735,321.25 736.25,319.6 737.5,317.5 738.75,315.33 740,313.1 741.25,310.8 742.5,308.75 743.75,307.49 745,305 746.25,305.78 747.5,306.25 748.75,305.4 750,305 750,435" fill="#ffff00" stroke="none"/>
<polyline points="50,306.25 51.25,305.56 52.5,305.6 53.75,306.31 55,306.9 56.25,307.64 57.5,308.75 58.75,311.4 60,313.75 61.25,316.43 62.5,318.75 64.4,321.9 66.25,315 67.5,312.52 68.75,311.25 70,310.24 71.25,310.6 72.5,311.72 73.75,311.9 75,313.41 76.25,315.6 77.5,316.8 78.75,318.75 80.62,320.07 82.5,320 84.38,319.96 86.25,320 88.12,321.1 90,321.25 91.25,323.09 92.5,325 94.38,325.49 96.25,325.6 98.12,324.51 100,324.4 101.88,324.26 103.75,323.75 105.62,323.02 107.5,321.25 109.38,318.16 111.25,315 113.12,315.34 115,315 116.25,315.86 117.5,316.25 118.75,313.76 120,312.5 121.88,310.66 123.75,308.1 125,308.88 126.25,309.4 128.12,308.47 130,308.1 131.25,306.52 132.5,306.25 134.38,304.59 136.25,301.9 137.5,304.04 138.75,306.25 140.62,304.98 142.5,303.1 144.38,307.08 146.25,310 148.12,313.8 150,317 151.67,318.39 153.33,318.45 155,319.4 156.67,319.39 158.33,318.46 160,318.1 161.88,318.41 163.75,317.5 165.62,318.03 167.5,317.5 168.75,320.06 170,323.75 171.25,323.57 172.5,324.4 174.38,323.35 176.25,323.1 178.12,322.83 180,321.25 181.88,321.49 183.75,321.9 185.6,320 187.5,311.9 188.75,312.68 190,313.1 191.25,313.77 192.5,315 194.38,314.06 196.25,313.1 198.12,312.34 200,311.9 201.9,311.25 203.75,313.75 205,316.04 206.25,318.75 207.5,317.62 208.75,316.25 210.6,317.5 211.25,298.75 212.5,296.37 213.75,293.75 215.62,293.39 217.5,291.9 219.38,291.5 221.25,290.6 223.12,289.03 225,286.25 226.25,288 227.5,288.75 228.75,291.01 230,291.9 231.88,293.69 233.75,295 235,293.58 236.25,293.1 237.5,293 238.75,291.9 240.32,287.55 241.9,281.9 243.45,283.39 245,283.75 246.25,285.72 247.5,287.5 248.75,285.3 250,282.5 251.9,276.25 253.1,283.75 255,288.75 256.25,289.6 257.5,291.25 258.75,292.64 260,293.1 261.25,294.15 262.5,295 264.4,298.1 265.95,297.5 267.5,297.5 269.38,295.94 271.25,295.6 273.12,295.8 275,295 276.88,295.06 278.75,293.75 280.62,292.25 282.5,291.9 284.38,290.12 286.25,287.5 287.5,286.12 288.75,285 290,281.39 291.25,278.75 292.5,276.59 293.75,275 295,274.43 296.25,273.1 298.12,271.77 300,269.4 301.25,267.81 302.5,267.5 303.75,268.91 305,270 306.25,269.66 307.5,270.6 308.75,271.56 310,271.9 311.25,272.26 312.5,273.1 313.75,273.96 315,273.75 316.25,273.5 317.5,271.9 318.75,269.41 320,266.9 321.25,266.95 322.5,265.6 323.75,265.66 325,266.25 326.25,270.33 327.5,275.6 329.38,275.44 331.25,275 332.5,272.79 333.75,271.9 335.62,270.53 337.5,270 339.38,270.5 341.25,271.25 343.12,271.73 345,271.9 346.67,270.12 348.33,268.66 350,268 351.25,268.26 352.5,267.5 353.75,269.11 355,271.25 356.9,282.5 358.75,281.25 360.62,281.89 362.5,281.25 363.75,278.68 365,275 366.25,269.83 367.5,265 368.75,263.99 370,263.1 371.25,264.08 372.5,265 373.75,268.95 375,272.5 376.25,273.26 377.5,273.75 379.38,272.58 381.25,271.25 382.5,268.92 383.75,266.25 385.62,265.94 387.5,264.4 389.38,264.08 391.25,263.75 392.5,256.25 393.75,254.9 395,253.75 396.25,252.18 397.5,250 398.75,248.38 400,247.5 401.25,248.17 402.5,249.4 403.75,250.67 405,250.6 406.25,251.58 407.5,252.5 408.75,256.32 410,260 411.25,262.44 412.5,266.25 414.38,267.06 416.25,268.1 418.12,267.91 420,267.5 421.25,274.58 422.5,283 424.5,280 426.25,257.5 428.1,245 430,238.75 431.25,234.4 433.1,241.25 435,248.75 436.25,253.29 437.5,257.5 438.75,263.94 440,270 441.25,275.63 442.5,282.5 443.75,283.93 445,285 446.25,285.58 447.5,286.25 448.75,284.63 450,282.5 451.25,279.17 452.5,276.25 453.75,276.21 455,275.6 456.5,274.13 458,272 459.25,269.33 460.5,268 462.5,266.9 464.5,270 466.25,276.25 467.5,275.31 468.75,275.6 470.62,275.25 472.5,274.4 474.05,274.4 475.6,273.1 477.5,276.9 478.75,276.23 480,276.25 481.25,278.06 482.5,280 483.75,279.83 485,279.4 486.25,280.07 487.5,281.25 488.75,281.06 490,281.25 491.25,281.61 492.5,282.5 493.75,284.19 495,286.25 496.9,290 498.45,290.43 500,290.6 501.25,290.65 502.5,291.25 503.75,289.83 505,288.75 506.25,284.13 507.5,278.75 508.75,278.71 510,280 511.25,281.97 512.5,283.75 513.75,286.58 515,288.75 516.25,289.73 517.5,291.25 518.5,272 519.5,292 521,293.11 522.5,295 523.75,296.68 525,297.5 526.88,297.76 528.75,298.75 530.62,297.99 532.5,298.1 534.38,298.96 536.25,300 538.12,299.65 540,298.75 541.25,297.27 542.5,296.9 543.75,298.2 545,300 546.67,300.43 548.33,301.8 550,302 551.25,302.46 552.5,303.1 553.75,303.92 555,303.75 556.25,303.61 557.5,304.4 559.4,306.9 561.25,305 562.5,305.07 563.75,305.6 565,306.46 566.25,306.9 567.5,305.86 568.75,303.75 570,304.61 571.25,305.6 572.5,305.54 573.75,306.25 575,306.34 576.25,307.5 577.5,308.17 578.75,308.75 580.62,308.32 582.5,308.75 583.75,308.85 585,308.1 586.9,302.5 588.1,306.9 590,308.1 591.25,307.32 592.5,305.6 593.75,303.61 595,302.5 596.9,297.5 598.75,293.75 600,290.6 601.9,290.6 603.75,297.5 605,298.14 606.25,299.4 607.5,299.18 608.75,298.1 610,297.05 611.25,295.6 612.5,296.98 613.75,297.5 615,296.98 616.25,296.9 618.1,300 620,296.25 621.25,294.16 622.5,293.1 623.75,292.51 625,292.5 626.25,291.66 627.5,290 628.75,290.63 630,291.9 631.25,291.36 632.5,291.25 634.38,290.81 636.25,290.6 637.5,290.81 638.75,291.25 640,292.05 641.25,293.1 642.5,294.64 643.75,295 645,294.52 646.25,295 647.5,293.68 648.75,293.75 650,293.75 651.25,293.75 652.5,292.5 653.75,291.48 655,289.4 656.25,289.43 657.5,288.1 658.75,288.96 660,290 661.25,290.63 662.5,290 664.38,290.3 666.25,289.4 667.5,289.31 668.75,290 670,291.59 671.25,292.5 672.5,296.72 673.75,300 675,302.73 676.25,305 677.5,307.53 678.75,310 680,311.25 681.25,313.1 682.5,312.88 683.75,313.1 685.62,313.04 687.5,313.75 688.75,315.65 690,318.75 691.25,320.12 692.5,321.25 693.75,322.2 695,323.75 696.25,324.81 697.5,325 699.38,324.99 701.25,326.25 703.12,326.19 705,325 706.88,324.65 708.75,323.75 710.62,323.09 712.5,321.25 714.38,321.48 716.25,320.6 718.12,320.23 720,318.75 721.88,316.98 723.75,315 725,312.44 726.25,311.25 727.5,311.27 728.75,310.6 730,311.09 731.25,312.5 732.5,315.34 733.75,318.75 735,321.25 736.25,319.6 737.5,317.5 738.75,315.33 740,313.1 741.25,310.8 742.5,308.75 743.75,307.49 745,305 746.25,305.78 747.5,306.25 748.75,305.4 750,305" fill="none" stroke="#000" stroke-width="1"/>
<polygon points="750,305 780,285 780,415 750,435" fill="#808080" stroke="none"/>
<path d="M50,185.5 H750 M50,235.5 H750 M50,285.5 H750 M50,335.5 H750 M50,385.5 H750" stroke="#000" stroke-width="1" stroke-dasharray="3 3" fill="none"/>
<path d="M750.5,185.5 L780.5,165.5 M750.5,235.5 L780.5,215.5 M750.5,285.5 L780.5,265.5 M750.5,335.5 L780.5,315.5 M750.5,385.5 L780.5,365.5" stroke="#000" stroke-width="1" stroke-dasharray="4 2" fill="none"/>
<path d="M780.5,165 V285" stroke="#000" stroke-width="1" stroke-dasharray="3 3" fill="none"/>
<path d="M750.5,305 L780.5,285 V415 M750.5,435 L780.5,415" stroke="#000" stroke-width="1" fill="none"/>
<path d="M50.5,185 V440 M45,185.5 H50 M45,235.5 H50 M45,285.5 H50 M45,335.5 H50 M45,385.5 H50" stroke="#000" stroke-width="1" fill="none"/>
<path d="M50,435.5 H751" stroke="#000" stroke-width="1" fill="none"/>
<path d="M750.5,70 V436 M750,70.5 H755 M750,111.5 H755 M750,151.5 H755 M750,192.5 H755 M750,232.5 H755 M750,273.5 H755 M750,313.5 H755 M750,354.5 H755" stroke="#000" stroke-width="1" fill="none"/>
<rect x="50.5" y="435.5" width="700" height="4" fill="#fff" stroke="#000" stroke-width="1"/>
<rect x="115.86" y="436" width="65.86" height="3" fill="#000"/>
<rect x="247.57" y="436" width="65.86" height="3" fill="#000"/>
<rect x="379.29" y="436" width="65.86" height="3" fill="#000"/>
<rect x="511" y="436" width="65.86" height="3" fill="#000"/>
<rect x="642.72" y="436" width="65.86" height="3" fill="#000"/>
<polyline points="50,263.6 50.6,266.99 51.2,254 52.8,257.51 54.4,249.6 55,353.75 55.6,242.6 56.9,236.19 58.2,238 59.35,235.43 60.5,219.3 61.3,215.74 62.1,219.3 62.88,229 63.65,231 64.25,353.75 65.65,245 66.25,354.5 66.85,252 67.53,252.43 68.2,266 69,264.29 69.8,245 70.95,216.06 72.1,200.6 72.7,209.94 73.3,226 73.9,213.72 74.5,218 75.08,215.63 75.65,228.6 76.25,353.75 76.85,221.6 77.62,221.44 78.4,210 78.9,209.69 79.4,221.6 80,337.5 81.25,353.75 81.5,259 82.05,267.3 82.6,263.6 83.88,254.96 85.15,257.8 85.75,352.5 86.1,263.6 87.05,264.24 88,254 89.33,251.55 90.65,263.6 91.25,353.75 91.85,205 92.72,202.55 93.6,185 94.3,200.68 95,210 95.95,227.9 96.9,256.6 97.5,353.75 97.8,259 98.6,266.62 99.4,263.6 100.1,261.32 100.8,275.2 101.95,239.47 103.1,212.3 103.55,222.83 104,245 104.5,354.5 105.1,249.6 106.3,261.82 107.5,263 108.1,250.83 108.7,254 109.35,268.52 110,273 110.65,269.8 111.3,256.6 111.9,268.85 112.5,266 113.2,258.69 113.9,259 114.5,352.5 115.1,266 115.75,260.43 116.4,261 117,274.78 117.6,273 119.12,258.31 120.65,257.8 121.25,352.5 121.5,273 122.1,264.82 122.7,268 123.4,263.89 124.1,277.6 124.95,265.08 125.8,263.6 126.4,263.8 127,256.6 127.5,327.5 128.1,275 129.25,279.44 130.4,266 131.2,268.38 132,280 133.2,278.49 134.4,259 135,352.5 135.6,263.6 136.5,261.54 137.4,268 138.2,272.48 139,259 139.7,248.75 140.4,245 141.2,245.22 142,254 142.6,254.86 143.2,249.6 143.8,248.78 144.4,232 145,240.74 145.6,242.6 146.15,241.85 146.7,249.6 147.35,250.01 148,256.6 149,264.03 150,261 150.95,260.26 151.9,252 152.7,258.79 153.5,249.6 154.25,244.6 155,256 155.75,261.24 156.5,280 157.35,276.75 158.2,256.6 159.1,250.45 160,259 160.85,249.76 161.7,255.4 162.43,250.08 163.15,259 163.75,352.5 164.35,254 165.32,264.79 166.3,259 167.6,252.27 168.9,256.6 169.5,354.5 169.8,252 170.4,237.85 171,231 171.8,217.93 172.6,196 173.2,216.84 173.8,228.6 174.5,268 175.05,264.76 175.6,252 176.55,242.22 177.5,249.6 178.3,240.04 179.1,238 179.7,240.86 180.3,231 180.9,233.32 181.5,245 182.05,232.81 182.6,235.6 183.2,237.98 183.8,249.6 184.4,247.09 185,235.6 185.55,245.54 186.1,263.6 186.95,271.99 187.8,268 188.7,250.45 189.6,240 190.45,218.95 191.3,214.6 191.85,236.74 192.4,245 193.1,241.96 193.8,252 194.4,241.45 195,242.6 195.8,262.51 196.6,268 197.45,257.87 198.3,254 199,249.41 199.7,256.6 200.5,258.01 201.3,249.6 202,249.65 202.7,256.6 203.35,250.02 204,228.6 204.75,208.04 205.5,203 206.05,224.41 206.6,235.6 207.2,248.71 207.8,245 208.5,258.17 209.2,254 210,245 210.5,260.07 211,291.5 211.5,262.65 212,247.3 212.7,268.93 213.4,280 214.1,267.35 214.8,268 215.6,255.26 216.4,249.6 217,232.49 217.6,233.3 218.2,252.32 218.8,256.6 219.4,275.71 220,277.6 220.55,276.24 221.1,263.6 221.9,255.19 222.7,259 223.4,250.64 224.1,252 224.95,243.76 225.8,247.3 226.4,240.91 227,252 227.9,242.52 228.8,245 229.6,248.33 230.4,242.6 231,232.74 231.6,233.3 232.2,232.08 232.8,245 233.4,231.89 234,231 234.5,244.96 235,245 235.85,255.49 236.7,254 237.4,251.54 238.1,259 238.55,279.44 239,291.5 239.25,340 239.85,252 240.62,253.82 241.4,240 242.1,234.22 242.8,245 243.6,245.82 244.4,238 245,241.66 245.6,236.8 246.15,232.42 246.7,240 247.3,230.53 247.9,235.6 248.45,247.03 249,242.6 249.5,232.1 250,233 250.6,249.85 251.2,249.6 251.75,246.75 252.3,233.3 252.9,244.98 253.5,242.6 254.1,244.02 254.7,235.6 255.25,233.13 255.8,240 256.4,231.93 257,238 257.6,242.07 258.2,233.3 258.75,246.05 259.3,245 259.9,233.45 260.5,235.6 261.1,244.83 261.7,242.6 262.25,241.98 262.8,256.6 263.4,244.72 264,224 264.7,242.6 265.3,240.52 265.9,254 266.35,241.32 266.8,240 267.4,252.4 268,247.3 268.55,240.75 269.1,242.6 269.8,252.84 270.5,254 271.3,243.12 272.1,247.3 272.7,249.08 273.3,259 273.9,268.97 274.5,263.6 275.05,245.44 275.6,238 276.2,239.13 276.8,247.3 277.4,253.43 278,252 278.55,251.48 279.1,242.6 279.7,243.04 280.3,254 280.9,254.08 281.5,242.6 282.05,241.36 282.6,247.3 283.2,245.37 283.8,252 284.4,261.88 285,254 285.55,261.52 286.1,256.6 286.7,263.37 287.3,261 287.98,252.41 288.65,254 289.25,354.5 289.85,256.6 290.68,249.88 291.5,249.6 292.1,262.9 292.7,263.6 293.25,249.72 293.8,224 294.4,227.69 295,240 295.5,227.58 296,226.3 296.6,247.91 297.2,277.6 297.8,305.5 298.25,305 298.7,245 299.4,259 300,247.42 300.6,221.6 301.15,206.98 301.7,204 302.3,226.17 302.9,231 303.45,254.97 304,266 304.6,251.45 305.2,252 305.8,261.66 306.4,259 307,273.99 307.6,273 308.15,256.36 308.7,252 309.4,252.17 310.1,242.6 310.7,246.68 311.3,233.3 311.9,238.82 312.5,254 313.05,240.69 313.6,245 314.2,261.94 314.8,266 315.5,255.83 316.2,256.6 316.9,258.78 317.6,273 318.3,274.97 319,270.6 319.7,255.2 320.4,252 321.1,254.76 321.8,245 322.4,244.85 323,256.6 323.55,256.7 324.1,263.6 325,242.6 325.75,267.88 326.5,282.2 327.4,240 327.85,230.77 328.3,212.3 328.8,234.61 329.3,245 329.85,254.1 330.4,252 331,267.45 331.6,270.6 332.2,262.95 332.8,263.6 333.35,259.75 333.9,273 334.5,256.29 335.1,254 335.65,246.29 336.2,245 336.8,227.79 337.4,219.3 338,225.38 338.6,221.6 339.15,237.77 339.7,245 340.17,274.13 340.65,296 341.25,302.5 341.85,266 342.52,247.39 343.2,245 343.7,224.31 344.2,189 344.65,225.94 345.1,256.6 345.9,291.5 346.5,301 347.5,307.5 347.8,245 348.4,273 348.85,266.95 349.3,245 350,242.6 350.6,246.87 351.2,263.6 351.75,242.27 352.3,233.3 352.9,213.75 353.5,203 354.1,200.92 354.7,182 355.25,195.62 355.8,196 356.4,198.69 357,210 357.6,207.47 358.2,221.6 358.75,220.27 359.3,235.6 359.9,227.09 360.5,233.3 361.1,244.48 361.7,245 362.25,260.99 362.8,261 363.5,296 364,280.26 364.5,252 365.05,253.6 365.6,263.6 366.2,268.22 366.8,280 367.5,291.97 368.2,287 368.65,296.44 369.1,298.5 370,280 370.5,280.02 371,268 371.55,255.68 372.1,259 372.7,253.14 373.3,240 373.9,219.73 374.5,214.6 375.05,225.48 375.6,228.6 376.2,221.41 376.8,221.6 377.4,227.56 378,249.6 378.55,250.01 379.1,233.3 379.7,220.42 380.3,220.5 380.9,228.54 381.5,254 382.05,262.27 382.6,263.6 383.1,274.84 383.6,296 384.5,256.6 385.3,263.36 386.1,259 386.7,263.38 387.3,256.6 387.85,263.18 388.4,263.6 389,250.73 389.6,254 390.2,252.05 390.8,261 391.4,276.74 392,277.6 392.55,295.33 393.1,296 393.7,284.43 394.3,280 394.9,268.06 395.5,266 396.05,261.69 396.6,273 397.2,287.42 397.8,289 398.4,287.72 399,298.5 399.55,285.38 400.1,256.6 400.9,255.48 401.7,245 402.4,231.68 403.1,233.3 403.7,230.06 404.3,242.6 405.23,241.75 406.15,233.3 406.75,354.5 407.1,219.3 407.7,235.73 408.3,235.6 408.85,250.2 409.4,249.6 410,238.37 410.6,238 411.2,221.73 411.8,212.3 412.35,215.36 412.9,208.8 413.5,212.14 414.1,221.6 414.7,242.24 415.3,245 415.85,245.11 416.4,254 417,262.53 417.6,261 418.2,268.72 418.8,263.6 419.4,262.96 420,273 420.85,286.85 421.7,287 422.3,305.5 423,348.75 423.4,296 424,279.23 424.6,277.6 425.2,269.11 425.8,268 426.6,266.57 427.4,280 428,331 428.2,284 428.75,273.66 429.3,252 429.85,237.43 430.4,238 431,238.71 431.6,233.3 432.2,238.96 432.8,235.6 433.35,247.75 433.9,247.3 434.5,251.45 435.1,238 435.65,234.67 436.2,245 436.8,230.5 437.4,228.6 438,203.48 438.6,189 439.15,149.68 439.7,121 440.17,127.37 440.65,150 441.25,350 441.85,241.7 442.58,240.27 443.3,250 444,258.87 444.7,256.7 445.25,267.44 445.8,265 446.4,273.68 447,270 447.65,278.58 448.3,273.3 449.2,280 450,255 450.8,226.7 451.4,266.7 452,300 452.5,332.5 453,270 453.6,269.48 454.2,255 455,262 455.8,270 456.7,263 457.5,273.3 458.3,266.7 459.2,275 460,263.3 460.65,259.81 461.3,250 461.9,237.64 462.5,238.3 463.3,233.3 463.8,250 464.7,220 465.3,315 465.8,243.3 466.7,233.3 467.5,225 468.3,241.7 469.2,228.3 470,241.7 470.8,213.3 471.7,233.3 472.5,255 473.3,246.7 474.2,241.7 475,233.3 475.8,221.7 476.7,210 477.5,175 478.3,216.7 479.2,241.7 480,230 480.8,221.7 481.7,210 482.5,220 483.3,230 484.2,241.7 485,233.3 485.8,221.7 486.7,216.7 487.5,228.3 488.3,233.3 489.2,240 490,243.3 490.8,248.3 491.7,250 492.5,255 493.3,245 494.2,250 495.05,236.2 495.9,233.3 496.5,353.75 496.9,238.3 497.5,248.3 498.3,255 499.2,260 500,263.3 500.8,270 501.7,258.3 502.5,266.7 503.3,275 504.2,280 505,286.7 505.8,250 506.7,225 507.5,208.3 508.3,176 509.2,208.3 510,216.7 510.8,226.7 511.7,233.3 512.5,230 513.3,241.7 513.75,249.17 514.2,250 515,258.3 515.8,263.3 516.25,272.49 516.7,266.7 517.5,275 518.3,263.3 518.75,231.81 519.2,213.3 520,208.3 520.55,210.24 521.1,205.3 521.7,219.57 522.3,245 522.85,258.81 523.4,263.6 524,265.03 524.6,273 525.2,259.68 525.8,263.6 526.35,262.67 526.9,254 527.5,252.18 528.1,263.6 528.7,256.8 529.3,256.6 529.85,265.83 530.4,263.6 531,250.63 531.6,254 532.2,263.67 532.8,261 533.35,273.32 533.9,296 534.5,269.29 535.1,256.6 535.65,245.71 536.2,221.6 536.8,223.28 537.4,214.6 538,202.38 538.6,207.6 539.2,210.17 539.8,221.6 540.35,221.43 540.9,233.3 541.5,244.36 542.1,240 542.65,247.15 543.2,245 543.8,241.7 544.4,252 545,245.51 545.6,247.3 546.15,238.94 546.7,242.6 547.3,244.83 547.9,263.6 548.45,247.53 549,245 549.5,236.87 550,238 550.6,239.36 551.2,234.4 551.75,232.59 552.3,238 552.9,244.93 553.5,245 554.1,237.67 554.7,247.3 555.25,243.35 555.8,252 556.4,254.4 557,245 557.85,255.06 558.7,256.6 559.3,305.5 559.9,245 560.8,247.47 561.7,238 562.25,226.47 562.8,231 563.4,227.69 564,240 564.6,245.66 565.2,235.6 565.75,234.63 566.3,245 566.9,246.84 567.5,238 568.1,236.29 568.7,245 569.25,247.25 569.8,240 570.4,241.43 571,254 571.6,254.78 572.2,242.6 572.75,257.85 573.3,256.6 573.9,237.54 574.5,231 575.05,233.89 575.6,224 576.2,235.39 576.8,231 577.4,234.59 578,228.6 578.55,229.84 579.1,238 579.7,226.04 580.3,231 580.9,221.48 581.5,226.3 582.05,225.5 582.6,210 583.2,197.2 583.8,175 584.5,226.3 585.1,227.84 585.7,238 586.25,238.5 586.8,228.6 587.4,230.67 588,242.6 588.55,244.37 589.1,233.3 589.7,240.08 590.3,235.6 590.9,243.55 591.5,240 592.1,237.1 592.7,245 593.25,249.49 593.8,261 594.4,259.64 595,252 595.6,266.51 596.2,268 596.75,258.37 597.3,263.6 597.9,277.18 598.5,275.2 599.4,263.6 600,264.88 600.6,282.2 601.15,261.84 601.7,249.6 602.3,249.74 602.9,233.3 603.5,238.82 604.1,228.6 604.65,226.01 605.2,235.6 605.8,232.7 606.4,242.6 606.95,234.39 607.5,240 608.1,245.88 608.7,245 609.3,253.88 609.9,247.3 610.45,243.44 611,249.6 611.6,258.22 612.2,252 612.8,253.16 613.4,247.3 614,219.22 614.6,198.3 615.15,196.12 615.7,185 616.3,183.37 616.9,193.6 617.45,208.19 618,207.6 618.6,222.05 619.2,226.3 619.8,236.83 620.4,233.3 621,241.58 621.6,238 622.15,234.25 622.7,245 623.3,251.04 623.9,268 624.52,282.12 625.15,280 625.75,354 626.35,247.3 627.23,251.65 628.1,240 628.7,254.75 629.3,252 629.85,235.36 630.4,231 631,234.69 631.6,254 632.2,255.54 632.8,240 633.35,238.03 633.9,245 634.5,233.55 635.1,240 635.7,251.9 636.3,249.6 636.85,250.33 637.4,242.6 638,245.27 638.6,235.6 639.2,244.42 639.8,235.6 640,236.7 640.65,231.52 641.3,238 642.15,235.18 643,242 643.5,233.34 644,240 644.65,234.03 645.3,245 646.1,238 646.7,300 647.3,316 647.9,249 648.6,253.6 649.3,252 650,261.46 650.7,254 651.35,251.47 652,258.7 652.65,257.24 653.3,264 654,261.97 654.7,273 655.3,300 655.9,270 656.6,263.57 657.3,244 658,290 658.4,354 659,270 659.5,260.35 660,262 661,256.41 662,240 662.5,257.76 663,262 663.5,284.12 664,290 664.65,292.32 665.3,278 666,290.96 666.7,290 667.35,262.1 668,246 668.6,353 669.2,280 669.95,262.1 670.7,255 671.25,261.81 671.8,286 672.4,353 673,254 673.85,247.21 674.7,222.7 675.3,236 676.05,265.73 676.8,280 677.4,353 678,270 679,248.05 680,240 680.5,241.65 681,260 681.5,283.43 682,290 682.7,252 683.35,266.28 684,265 684.4,351 685,260 685.85,264.14 686.7,255 687.35,242.01 688,240 688.8,226 689.4,349 690,262 691.2,263.37 692.4,257 693,353 693.3,262 694.15,259.18 695,270 695.6,354 696.2,265 696.75,273.1 697.3,269 698.05,273.1 698.8,285 699.4,351 700,275 700.8,250.3 701.5,249 702,280 702.5,267.49 703,261 703.5,255.07 704,265 704.5,262.39 705,270 706.2,269.16 707.4,285 708,300 708.6,245 709.8,266 711,280 711.5,270.61 712,255 712.65,242 713.3,240 714.15,257.31 715,290 715.6,351 716.2,234 716.75,238.75 717.3,235 718,250 718.7,275 719.5,240 720.3,235 721,240.15 721.7,233 722.3,300 723.4,350 724,250 724.5,223.32 725,214 725.5,222.9 726,222 726.5,231.96 727,235 727.5,238.98 728,225 728.5,19 729,240 729.6,353 730.2,232 730.85,235.84 731.5,250 732.15,258.87 732.8,275 733.4,352 734,257 734.75,270.56 735.5,270 736.1,259.58 736.7,263 737.5,275 738.05,261.82 738.6,265 739.5,280 740.3,268 740.8,275.92 741.3,275 742,266 742.65,263.25 743.3,272 743.9,259.86 744.5,264 745,257.59 745.5,268 746.1,260.26 746.7,262 747.5,268 748.1,275.12 748.7,265 749.3,272 750,280 750,290" fill="none" stroke="#000078" stroke-width="1.2" stroke-linejoin="bevel" shape-rendering="geometricPrecision"/>
</g>
<text x="521" y="406.5" font-size="22" font-weight="bold" fill="#000" stroke="#000" stroke-width="0.5" textLength="109.5" lengthAdjust="spacingAndGlyphs">HRMProfil</text>
<text x="632" y="406.5" font-size="8.5" font-weight="bold" fill="#000" stroke="#000" stroke-width="0.3" textLength="54" lengthAdjust="spacingAndGlyphs">für Windows</text>
<text x="534.5" y="430.3" font-size="18.5" font-weight="bold" fill="#000" stroke="#000" stroke-width="0.35" xml:space="preserve" textLength="199" lengthAdjust="spacingAndGlyphs">Shareware Trial  Version</text>
<rect x="521" y="409" width="226" height="3" fill="#000"/>
<rect x="522" y="410" width="16" height="1" fill="#fff"/>
<rect x="557" y="410" width="16" height="1" fill="#fff"/>
<rect x="592" y="410" width="16" height="1" fill="#fff"/>
<rect x="627" y="410" width="16" height="1" fill="#fff"/>
<rect x="662" y="410" width="16" height="1" fill="#fff"/>
<rect x="697" y="410" width="16" height="1" fill="#fff"/>
<rect x="732" y="410" width="14" height="1" fill="#fff"/>
<polygon points="708,405.5 708,395 711,396 713,394 716.5,392 719,396 721,398 723,398.8 726,397 729,396.5 731,395 733,391.6 735,396 736.6,398 739,393 741.3,389.4 744,393 746,395 746,405.5" fill="#2a2aa8" stroke="#000030" stroke-width="1"/>
<g shape-rendering="crispEdges">
<rect x="50.5" y="485.5" width="700" height="90" fill="#fff" stroke="#000" stroke-width="1"/>
<path d="M50,497.5 H750 M50,508.5 H750 M50,519.5 H750 M50,541.5 H750 M50,552.5 H750 M50,563.5 H750" stroke="#000" stroke-width="1" stroke-dasharray="3 3" fill="none"/>
<path d="M116.5,486 V490 M116.5,571 V575 M182.5,486 V490 M182.5,571 V575 M248.5,486 V490 M248.5,571 V575 M313.5,486 V490 M313.5,571 V575 M379.5,486 V490 M379.5,571 V575 M445.5,486 V490 M445.5,571 V575 M511.5,486 V490 M511.5,571 V575 M577.5,486 V490 M577.5,571 V575 M643.5,486 V490 M643.5,571 V575 M709.5,486 V490 M709.5,571 V575" stroke="#000" stroke-width="1" fill="none"/>
<polyline points="55,531.46 56.5,532.91 58,533.34 59.5,533.69 61,533.37 62.5,532.56 64,531.15" fill="none" stroke="#0000a0" stroke-width="1"/>
<polyline points="108,531.29 109.5,531.79 111,533.43 112.5,533.43 114,533.59 115.5,531.61 117,530.49" fill="none" stroke="#0000a0" stroke-width="1"/>
<polyline points="140,530.26 141.5,532.69 143,533.83 144.5,533.75 146,532.96 147.5,532.77 149,531.46" fill="none" stroke="#0000a0" stroke-width="1"/>
<polyline points="186,531.1 187.5,531.86 189,532.85 190.5,533.37 192,532.87 193.5,532.14 195,531.23" fill="none" stroke="#0000a0" stroke-width="1"/>
<polyline points="262,531.69 263.5,532.06 265,533.61 266.5,532.03 268,530.39" fill="none" stroke="#0000a0" stroke-width="1"/>
<polyline points="300,531.5 301.5,532.89 303,534.17 304.5,532.68 306,530.22" fill="none" stroke="#0000a0" stroke-width="1"/>
<polyline points="335,530.82 336.5,533.31 338,533.87 339.5,531.77" fill="none" stroke="#0000a0" stroke-width="1"/>
<polyline points="350,530.96 351.5,532.63 353,532.86 354.5,533 356,530.54" fill="none" stroke="#0000a0" stroke-width="1"/>
<polyline points="372,530.44 373.5,531.69 375,532.59 376.5,533.67 378,531.86 379.5,531.75" fill="none" stroke="#0000a0" stroke-width="1"/>
<polyline points="420,530.34 421.5,533.36 423,532.91 424.5,532 426,531.35" fill="none" stroke="#0000a0" stroke-width="1"/>
<polyline points="430,531 433,533 435,540 437,548 439,538 444,531" fill="none" stroke="#0000a0" stroke-width="1"/>
<polyline points="456,531.33 457.5,532.7 459,534.19 460.5,532.37 462,531.74" fill="none" stroke="#0000a0" stroke-width="1"/>
<polyline points="476,531.35 477.5,531.99 479,532.72 480.5,533.01 482,531.51" fill="none" stroke="#0000a0" stroke-width="1"/>
<polyline points="515,531 518,533 520,540 522,548 524,538 526,531" fill="none" stroke="#0000a0" stroke-width="1"/>
<polyline points="537,531.12 538.5,532.37 540,533.66 541.5,532.81 543,532.95 544.5,530.78" fill="none" stroke="#0000a0" stroke-width="1"/>
<polyline points="602,531.23 603.5,533.71 605,530.87" fill="none" stroke="#0000a0" stroke-width="1"/>
<polyline points="640,530.82 641.5,533.23 643,534.21 644.5,533.22 646,531.11" fill="none" stroke="#0000a0" stroke-width="1"/>
<polyline points="672,530.67 673.5,532.06 675,534.26 676.5,533.09 678,531.52" fill="none" stroke="#0000a0" stroke-width="1"/>
<polyline points="690,530.73 691.5,532.64 693,534.14 694.5,533.91 696,532.63 697.5,530.69" fill="none" stroke="#0000a0" stroke-width="1"/>
<polyline points="742,530.89 743.5,533.39 745,533.3 746.5,533.06 748,531.16" fill="none" stroke="#0000a0" stroke-width="1"/>
<polyline points="51,528.74 52.5,531.24 54,534.36 56,530.55 57,535.07 58,528.53 59,529.71 60.5,529.59 61.5,531.33 63,525.71 64,528.62 65,532.12 67,523 69,527.59 70,526.88 71.5,523.75 72.5,528.9 74.5,529.23 75.5,534.17 76.5,527.89 78,528.8 79,529.03 81,529.95 82,528.07 83.5,528.2 84.5,529.97 86,537 87.5,532.93 89.5,525.99 91,526.33 92,529.7 93.5,528.28 95,529.73 96,528.93 97.5,524.06 99,530.58 100,529.81 101,528.53 102,534.23 103.5,532.28 105.5,529.93 107.5,528.29 109,530.72 111,530.3 113,528.98 114.5,529.41 116,528.63 117.5,530.02 119,529.1 120.5,528.34 121.5,528.85 123,531.43 125,527.99 126.5,530.28 128.5,527.78 130,527.44 131,530.41 132,529.87 134,529.68 135.5,527.31 137,529.49 138.5,525.01 140.5,528.8 142.5,526.66 143.5,525.69 144.5,536 146,528.79 147.5,528.01 149,525.61 151,530.48 153,529.32 154,528.52 155,530.78 156.5,530.2 158.5,532.57 159.5,532.23 160.5,525 162,529.1 164,528.57 165.5,528.54 167.5,522.94 169,529.92 170,524.18 172,524.32 173.5,530.41 175,535 176,526.24 178,530.54 179,529.54 180.5,530.24 182,529.21 183.5,525.18 185,533.03 187,528.74 189,530.61 191,529.44 192,524.78 193.5,530.75 195.5,528.72 197.5,529.11 199,531.76 200.5,529.5 202.5,529.73 204,529.5 206,531.3 207.5,528.93 209.5,514 211,530.77 212.5,529.22 213.5,528.68 215,528.85 216.5,526.92 218,529.13 219.5,529.44 220.5,527.91 222.5,531.12 224,530.03 225.5,528.81 227,527.57 228,529.19 229.5,527.28 231.5,528.86 233,528.25 234.5,530.79 236,529.46 237,526.87 239,515 241,527.35 243,530.32 245,530.38 247,530.71 248,533.24 250,528.58 252,530.36 253,530.41 254.5,530.33 255.5,529.62 257,529.48 259,534.66 260.5,532.1 261.5,531.97 263,524 264,529.3 265,526.88 266,529.89 267.5,530.35 268.5,531.98 270,529 271,530.24 272,529.08 273.5,526.19 275.5,529.4 277,524.19 278.5,529.02 280,529.25 281.5,528.94 283.5,529.44 284.5,527.87 285.5,529.38 287.5,530.75 289.5,529.63 291.5,531.47 293.5,528.23 295,530.82 296,527.94 297.5,529.68 298.5,526.9 300,522 301.5,530.88 303.5,529.17 305,527.8 306,532.63 307.5,528.58 309,530.74 310.5,528.98 311.5,529.82 313,534.83 314,523.83 315.5,529.54 317,529.4 318.5,524.98 320,533.38 321.5,530.02 323,530.3 324.5,530.49 326,528.93 327.5,530 329.5,521 331,529.83 332.5,529.46 334.5,530.46 336,530.7 337,534.07 338,529.27 339.5,527.48 341.5,529.4 343,531.05 344.5,536 346,534.26 348,523.7 349.5,528.94 351,532.04 352,526.62 353.5,528.77 354.5,529.99 356,530.05 358,528.05 359.5,530.87 361,530.29 362.5,530.21 364.5,523.54 365.5,528.74 367.5,525.04 369,532.55 370,530.21 371,530.68 373,528.18 374.5,531.57 376.5,529.59 378,528.21 380,529.55 381.5,516 382.5,516 384.5,528.96 386.5,525.28 388.5,526.9 389.5,526.38 391,529.94 392.5,535 394,528.47 395,524.84 396.5,529.91 398.5,528.23 400,525.88 402,528.87 403.5,530.02 405,528.41 406.5,525.75 407.5,529.29 408.5,530.31 409.5,529.32 411,528.54 413,524.2 414.5,529.4 416,525.76 417,527.46 418.5,528.1 420,529.92 421.5,528.75 423,530.25 424.5,529.7 426,530.95 428,531.87 429.5,528.6 430.5,527.13 432,528.83 434,527.75 436,529.79 437.5,524.86 439,529.6 440,549 442,529.27 443.5,529.15 444.5,529.47 446,531.31 447.5,529.85 449,528.71 451,533.91 452,526.63 453,528.8 454.5,524 456.5,521.88 457.5,531.12 458.5,530.63 460,534.53 461.5,529.56 463,529.56 464,524.65 465,529.13 467,528.23 468,530.47 469,530.76 471,527.79 472.5,528.83 474,531.32 475.5,529.36 477.5,529.11 479.5,533.18 481,530.04 482.5,530.16 484,524.41 486,529.98 487.5,529.19 489.5,531.25 490.5,528.64 492.5,524.6 494.5,526.01 496,530.39 497,530.7 498.5,530.41 500.5,526.93 501.5,529.91 503,526.55 504.5,529.63 505.5,529.26 507,530.95 508.5,524.14 510,529.28 511.5,524.96 513,534.05 515,527.89 516.5,528.85 517.5,510 519.5,535.38 521.5,549 523,528.88 524.5,527.61 526,528.38 528,527.93 530,527.76 531.5,536 533.5,528.67 535,527.34 536.5,528.89 538,530.88 539,530.55 540.5,529.51 541.5,525.33 543,530.55 545,526.82 547,528.66 548,529.59 550,527.97 551.5,529.56 553,528.95 554,528.1 555,529.82 556.5,523.05 557.5,527.93 558.5,526.74 560,524.24 561.5,529.7 562.5,529.35 564,524.01 565.5,530.42 567,529.84 569,528.92 570.5,529.85 572.5,529.89 574,529.83 576,528.57 577.5,530.73 578.5,531.68 580,529.11 581,530.61 582.5,527.87 584.5,529.86 585.5,527.27 587,530.23 588,533.34 589,530.2 590.5,528.76 591.5,522.43 593,530.87 594,527.12 595.5,529.85 596.5,534.09 598.5,527.72 599.5,525 601,529.38 603,524.12 604.5,529.74 606,529.77 607,532.65 608.5,529.61 609.5,531.06 611,527.84 612.5,531.25 613.5,530.46 615,531.41 616.5,530.04 618,530.06 619.5,530.05 621,531.52 622.5,531.47 624.5,529.06 626,528.79 627.5,529.98 629,530.84 630,525.4 631.5,527.52 632.5,532.96 633.5,531.75 634.5,530.17 636,528.79 638,531.1 639.5,529.07 641.5,527.54 642.5,526.7 644.5,523.14 646.5,529.09 648.5,529.39 650,525.71 651.5,531.24 653,530.57 654.5,529.77 656,529.43 657.5,528.88 659.5,530.65 661,530.78 662,528.33 663.5,529.89 664.5,528.96 665.5,531.04 667,527.73 669,527.72 670.5,529.75 671.5,528.25 672.5,529.56 674.5,529.51 676,529.56 677.5,528.41 679,530.94 680,531.16 682,529.31 683.5,529.98 685,529.44 686.5,530.35 688.5,529.39 689.5,529.58 691,532.66 692.5,528.95 694,529.39 695.5,530.53 697,531.25 698,526.09 699.5,524 701,530.39 702.5,529.68 704,531.1 705,525.52 706.5,528.58 708.5,527.8 709.5,525.73 711.5,526.92 713,529.49 714.5,519 716,531.91 717,529.06 718,529.74 719.5,527.71 720.5,529.26 722,531.52 724,526.13 725,529.31 727,529.82 728,531.07 729.5,527.24 731,528.45 732.5,529.98 733.5,528.51 735,529.22 737,531.63 738.5,526.11 740.5,532.58 742,528.04 743.5,531.3 745,526.46 746,531.12 748,531.65 749.5,527.91" fill="none" stroke="#800000" stroke-width="1"/>
<path d="M51,530.5 H750" stroke="#000" stroke-width="1" fill="none"/>
</g>
<text x="130" y="42" font-size="12" fill="#000" font-weight="normal" text-anchor="start">Distanz:</text>
<text x="269.5" y="42" font-size="12" fill="#000" font-weight="normal" text-anchor="end">106,29 km</text>
<text x="300" y="42" font-size="12" fill="#000" font-weight="normal" text-anchor="start">Fahrzeit:</text>
<text x="479.5" y="42" font-size="12" fill="#000" font-weight="normal" text-anchor="end">05:06:12 h</text>
<text x="515" y="42" font-size="12" fill="#000" font-weight="normal" text-anchor="start">Kategorie:</text>
<text x="624" y="42" font-size="12" fill="#000" font-weight="normal" text-anchor="start">2 Sterne</text>
<text x="130" y="62" font-size="12" fill="#000" font-weight="normal" text-anchor="start">Bergauf:</text>
<text x="269.5" y="62" font-size="12" fill="#000" font-weight="normal" text-anchor="end">573 hm</text>
<text x="300" y="62" font-size="12" fill="#000" font-weight="normal" text-anchor="start">AV-Tempo:</text>
<text x="479.5" y="62" font-size="12" fill="#000" font-weight="normal" text-anchor="end">23,80 km/h</text>
<text x="130" y="82" font-size="12" fill="#000" font-weight="normal" text-anchor="start">Bergab:</text>
<text x="269.5" y="82" font-size="12" fill="#000" font-weight="normal" text-anchor="end">572 hm</text>
<text x="300" y="82" font-size="12" fill="#000" font-weight="normal" text-anchor="start">Max-Tempo:</text>
<text x="479.5" y="82" font-size="12" fill="#000" font-weight="normal" text-anchor="end">82,50 km/h</text>
<text x="18" y="139" font-size="12" fill="#000" font-weight="normal" text-anchor="start">hm</text>
<text x="40" y="189" font-size="12" fill="#000" font-weight="normal" text-anchor="end">250</text>
<text x="40" y="239" font-size="12" fill="#000" font-weight="normal" text-anchor="end">200</text>
<text x="40" y="289" font-size="12" fill="#000" font-weight="normal" text-anchor="end">150</text>
<text x="40" y="339" font-size="12" fill="#000" font-weight="normal" text-anchor="end">100</text>
<text x="40" y="389" font-size="12" fill="#000" font-weight="normal" text-anchor="end">50</text>
<text x="40" y="439" font-size="12" fill="#000" font-weight="normal" text-anchor="end">0</text>
<text x="760" y="437" font-size="12" fill="#000" font-weight="normal" text-anchor="start">km/h</text>
<text x="48" y="454" font-size="12" fill="#000" font-weight="normal" text-anchor="start">km</text>
<text x="109" y="454" font-size="12" fill="#000" font-weight="normal" text-anchor="start">10</text>
<text x="175.5" y="454" font-size="12" fill="#000" font-weight="normal" text-anchor="start">20</text>
<text x="241.25" y="454" font-size="12" fill="#000" font-weight="normal" text-anchor="start">30</text>
<text x="306" y="454" font-size="12" fill="#000" font-weight="normal" text-anchor="start">40</text>
<text x="372.5" y="454" font-size="12" fill="#000" font-weight="normal" text-anchor="start">50</text>
<text x="438.3" y="454" font-size="12" fill="#000" font-weight="normal" text-anchor="start">60</text>
<text x="503.5" y="454" font-size="12" fill="#000" font-weight="normal" text-anchor="start">70</text>
<text x="570.25" y="454" font-size="12" fill="#000" font-weight="normal" text-anchor="start">80</text>
<text x="636" y="454" font-size="12" fill="#000" font-weight="normal" text-anchor="start">90</text>
<text x="701.5" y="454" font-size="12" fill="#000" font-weight="normal" text-anchor="start">100</text>
<text x="48" y="472" font-size="12" fill="#b01c1c" font-weight="normal" text-anchor="start">hm</text>
<text x="106.5" y="472" font-size="12" fill="#b01c1c" font-weight="normal" text-anchor="start">36</text>
<text x="215.25" y="472" font-size="12" fill="#b01c1c" font-weight="normal" text-anchor="start">140</text>
<text x="327.5" y="472" font-size="12" fill="#b01c1c" font-weight="normal" text-anchor="start">234</text>
<text x="440.5" y="472" font-size="12" fill="#b01c1c" font-weight="normal" text-anchor="start">383</text>
<text x="553.8" y="472" font-size="12" fill="#b01c1c" font-weight="normal" text-anchor="start">466</text>
<text x="666.5" y="472" font-size="12" fill="#b01c1c" font-weight="normal" text-anchor="start">524</text>
<text x="454" y="207" font-size="12" fill="#b01c1c" font-weight="normal" text-anchor="start">202 m</text>
<text x="25" y="488" font-size="12" fill="#000" font-weight="normal" text-anchor="end">%</text>
<text x="40.5" y="488" font-size="12" fill="#000" font-weight="normal" text-anchor="end">20</text>
<text x="40.5" y="512" font-size="12" fill="#000" font-weight="normal" text-anchor="end">10</text>
<text x="40.5" y="534" font-size="12" fill="#000" font-weight="normal" text-anchor="end">0</text>
<text x="40.5" y="555" font-size="12" fill="#000" font-weight="normal" text-anchor="end">-10</text>
<text x="40.5" y="578" font-size="12" fill="#000" font-weight="normal" text-anchor="end">-20</text>
<text x="780" y="488" font-size="12" fill="#000" font-weight="normal" text-anchor="end">20</text>
<text x="780" y="512" font-size="12" fill="#000" font-weight="normal" text-anchor="end">10</text>
<text x="780" y="534" font-size="12" fill="#000" font-weight="normal" text-anchor="end">0</text>
<text x="780" y="555" font-size="12" fill="#000" font-weight="normal" text-anchor="end">-10</text>
<text x="780" y="578" font-size="12" fill="#000" font-weight="normal" text-anchor="end">-20</text>
<text x="50" y="598" font-size="12" fill="#000" font-weight="normal" text-anchor="start">SHAREWARE-PRÜFVERSION</text>
<text x="750" y="598" font-size="12" fill="#000" font-weight="normal" text-anchor="end">Profil created by HRMProfil (c) 98-2007 R.Welz</text>
<text x="785" y="74" font-size="12" fill="#000" text-anchor="end">70</text>
<text x="785" y="115" font-size="12" fill="#000" text-anchor="end">60</text>
<text x="785" y="155" font-size="12" fill="#000" text-anchor="end">50</text>
<text x="785" y="196" font-size="12" fill="#000" text-anchor="end">40</text>
<text x="785" y="236" font-size="12" fill="#000" text-anchor="end">30</text>
<text x="785" y="277" font-size="12" fill="#000" text-anchor="end">20</text>
<text x="785" y="317" font-size="12" fill="#000" text-anchor="end">10</text>
<text x="785" y="358" font-size="12" fill="#000" text-anchor="end">0</text>
</svg>
</body></html>
